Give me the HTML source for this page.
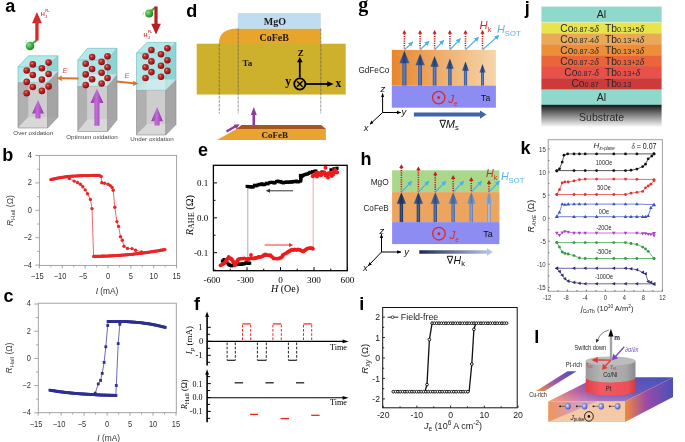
<!DOCTYPE html>
<html><head><meta charset="utf-8"><style>
html,body{margin:0;padding:0;background:#fff;}
svg{display:block;will-change:transform;}
</style></head><body>
<svg width="685" height="442" viewBox="0 0 685 442">
<defs>
<radialGradient id="ball" cx="0.38" cy="0.35" r="0.7"><stop offset="0" stop-color="#f0a0a0"/><stop offset="0.25" stop-color="#c83030"/><stop offset="0.7" stop-color="#a01818"/><stop offset="1" stop-color="#6a0c0c"/></radialGradient>
<radialGradient id="gball" cx="0.35" cy="0.35" r="0.7"><stop offset="0" stop-color="#8be08b"/><stop offset="0.6" stop-color="#3aaa3a"/><stop offset="1" stop-color="#1f7a1f"/></radialGradient>
<linearGradient id="purp" x1="0" x2="1"><stop offset="0" stop-color="#8e30a6"/><stop offset="0.45" stop-color="#c46cd8"/><stop offset="1" stop-color="#8a2ea2"/></linearGradient>
<radialGradient id="eball" cx="0.4" cy="0.4" r="0.7"><stop offset="0" stop-color="#e0e4ff"/><stop offset="0.55" stop-color="#7a82e0"/><stop offset="1" stop-color="#3a40a8"/></radialGradient>

<linearGradient id="gfc" x1="0" x2="1"><stop offset="0" stop-color="#e8862c"/><stop offset="0.5" stop-color="#efb070"/><stop offset="1" stop-color="#f5d6ac"/></linearGradient>
<linearGradient id="bstem" x1="0" x2="1"><stop offset="0" stop-color="#2d4f8e"/><stop offset="0.45" stop-color="#5a86d0"/><stop offset="1" stop-color="#2d4f8e"/></linearGradient>
<linearGradient id="bhead" x1="0" x2="1"><stop offset="0" stop-color="#4a6aa8"/><stop offset="0.5" stop-color="#243e72"/><stop offset="1" stop-color="#4a6aa8"/></linearGradient>
<linearGradient id="nh" x1="0" x2="1"><stop offset="0" stop-color="#1a2a50"/><stop offset="1" stop-color="#c0cfe8"/></linearGradient>
<linearGradient id="sub" x1="0" y1="0" x2="0" y2="1"><stop offset="0" stop-color="#161616"/><stop offset="0.5" stop-color="#8a8a8a"/><stop offset="1" stop-color="#fafafa"/></linearGradient>
<linearGradient id="slabtop" gradientUnits="userSpaceOnUse" x1="548" y1="401" x2="650" y2="360"><stop offset="0" stop-color="#ee8a3e"/><stop offset="0.25" stop-color="#b8609e"/><stop offset="0.45" stop-color="#7c4aac"/><stop offset="0.8" stop-color="#5a4eb8"/><stop offset="1" stop-color="#4a52b8"/></linearGradient>
<linearGradient id="slabside" x1="0" y1="0" x2="1" y2="0"><stop offset="0" stop-color="#f08a3a"/><stop offset="0.45" stop-color="#9a4aa8"/><stop offset="1" stop-color="#4a50b8"/></linearGradient>
<linearGradient id="slabfront" x1="0" y1="0" x2="1" y2="0"><stop offset="0" stop-color="#f0a060"/><stop offset="0.08" stop-color="#f6ccaa"/><stop offset="1" stop-color="#f4caa6"/></linearGradient>
<linearGradient id="slabtri" x1="0" y1="0" x2="1" y2="0"><stop offset="0" stop-color="#f09050" stop-opacity="0.9"/><stop offset="0.5" stop-color="#d08ab0" stop-opacity="0.7"/><stop offset="1" stop-color="#b090c8" stop-opacity="0.45"/></linearGradient>
<linearGradient id="slabhl" x1="0" y1="1" x2="0" y2="0"><stop offset="0" stop-color="#ffd8e0" stop-opacity="0.35"/><stop offset="0.4" stop-color="#ffd0e0" stop-opacity="0.08"/><stop offset="1" stop-color="#ffffff" stop-opacity="0"/></linearGradient>
<linearGradient id="bar" x1="0" y1="1" x2="1" y2="0"><stop offset="0" stop-color="#f09040"/><stop offset="0.5" stop-color="#9a50b0"/><stop offset="1" stop-color="#4a50c0"/></linearGradient>
<linearGradient id="cylg" x1="0" x2="1"><stop offset="0" stop-color="#9a9a9a"/><stop offset="0.3" stop-color="#b4b4b4"/><stop offset="0.8" stop-color="#a8a8a8"/><stop offset="1" stop-color="#8a8a8a"/></linearGradient>
<linearGradient id="cylr" x1="0" x2="1"><stop offset="0" stop-color="#e04048"/><stop offset="0.3" stop-color="#f05a60"/><stop offset="0.85" stop-color="#ec5058"/><stop offset="1" stop-color="#d03a42"/></linearGradient>
<marker id="mblk" viewBox="0 0 10 10" refX="9" refY="5" markerWidth="4.2" markerHeight="4.2" orient="auto"><path d="M0,1 L10,5 L0,9 z" fill="#000"/></marker>
<marker id="mred" viewBox="0 0 10 10" refX="9" refY="5" markerWidth="4" markerHeight="4" orient="auto"><path d="M0,0 L10,5 L0,10 z" fill="#e02020"/></marker>
<marker id="msot" viewBox="0 0 10 10" refX="9" refY="5" markerWidth="4" markerHeight="4" orient="auto"><path d="M0,0 L10,5 L0,10 z" fill="#4ab0e8"/></marker>
</defs>
<rect width="685" height="442" fill="#fff"/>
<text x="5.3" y="12.2" font-size="18" text-anchor="start" fill="#000" font-family="Liberation Sans, sans-serif" font-weight="bold" font-style="normal" >a</text>
<polygon points="28.5,71.2 58.0,71.2 58.0,117.0 28.5,117.0" fill="#d6d6d6" stroke="none" stroke-width="1" />
<polygon points="18.0,82.2 28.5,71.2 28.5,117.0 18.0,128.0" fill="#a9a9a9" stroke="none" stroke-width="1" />
<polygon points="18.0,128.0 47.5,128.0 58.0,117.0 28.5,117.0" fill="#e6e6e6" stroke="none" stroke-width="1" />
<polygon points="47.5,82.2 58.0,71.2 58.0,117.0 47.5,128.0" fill="#9c9c9c" stroke="none" stroke-width="1" fill-opacity="0.85"/>
<polygon points="18.0,82.2 47.5,82.2 47.5,128.0 18.0,128.0" fill="#bdbdbd" stroke="none" stroke-width="1" fill-opacity="0.35"/>
<polyline points="18.0,82.2 18.0,128.0 47.5,128.0 47.5,82.2" fill="none" stroke="#8a8a8a" stroke-width="0.6" />
<line x1="58.00" y1="71.20" x2="58.00" y2="117.00" stroke="#8a8a8a" stroke-width="0.6" />
<line x1="47.50" y1="128.00" x2="58.00" y2="117.00" stroke="#8a8a8a" stroke-width="0.6" />
<polygon points="87.3,74.3 117.0,74.3 117.0,119.8 87.3,119.8" fill="#d6d6d6" stroke="none" stroke-width="1" />
<polygon points="77.8,86.0 87.3,74.3 87.3,119.8 77.8,131.5" fill="#a9a9a9" stroke="none" stroke-width="1" />
<polygon points="77.8,131.5 107.5,131.5 117.0,119.8 87.3,119.8" fill="#e6e6e6" stroke="none" stroke-width="1" />
<polygon points="107.5,86.0 117.0,74.3 117.0,119.8 107.5,131.5" fill="#9c9c9c" stroke="none" stroke-width="1" fill-opacity="0.85"/>
<polygon points="77.8,86.0 107.5,86.0 107.5,131.5 77.8,131.5" fill="#bdbdbd" stroke="none" stroke-width="1" fill-opacity="0.35"/>
<polyline points="77.8,86.0 77.8,131.5 107.5,131.5 107.5,86.0" fill="none" stroke="#8a8a8a" stroke-width="0.6" />
<line x1="117.00" y1="74.30" x2="117.00" y2="119.80" stroke="#8a8a8a" stroke-width="0.6" />
<line x1="107.50" y1="131.50" x2="117.00" y2="119.80" stroke="#8a8a8a" stroke-width="0.6" />
<polygon points="146.8,79.4 176.0,79.4 176.0,124.4 146.8,124.4" fill="#d6d6d6" stroke="none" stroke-width="1" />
<polygon points="136.5,90.0 146.8,79.4 146.8,124.4 136.5,135.0" fill="#a9a9a9" stroke="none" stroke-width="1" />
<polygon points="136.5,135.0 165.7,135.0 176.0,124.4 146.8,124.4" fill="#e6e6e6" stroke="none" stroke-width="1" />
<polygon points="165.7,90.0 176.0,79.4 176.0,124.4 165.7,135.0" fill="#9c9c9c" stroke="none" stroke-width="1" fill-opacity="0.85"/>
<polygon points="136.5,90.0 165.7,90.0 165.7,135.0 136.5,135.0" fill="#bdbdbd" stroke="none" stroke-width="1" fill-opacity="0.35"/>
<polyline points="136.5,90.0 136.5,135.0 165.7,135.0 165.7,90.0" fill="none" stroke="#8a8a8a" stroke-width="0.6" />
<line x1="176.00" y1="79.40" x2="176.00" y2="124.40" stroke="#8a8a8a" stroke-width="0.6" />
<line x1="165.70" y1="135.00" x2="176.00" y2="124.40" stroke="#8a8a8a" stroke-width="0.6" />
<polygon points="28.5,55.8 58.0,55.8 58.0,71.2 28.5,71.2" fill="#bfeeee" stroke="none" stroke-width="1" />
<polygon points="47.5,66.8 58.0,55.8 58.0,71.2 47.5,82.2" fill="#8fd4d4" stroke="none" stroke-width="1" />
<polygon points="18.0,66.8 47.5,66.8 58.0,55.8 28.5,55.8" fill="#b4e8e8" stroke="none" stroke-width="1" />
<polygon points="18.0,66.8 47.5,66.8 47.5,82.2 18.0,82.2" fill="#a6e2e2" stroke="none" stroke-width="1" fill-opacity="0.85"/>
<polyline points="18.0,66.8 47.5,66.8 58.0,55.8 28.5,55.8 18.0,66.8 18.0,82.2 47.5,82.2 47.5,66.8" fill="none" stroke="#6cb8b8" stroke-width="0.6" />
<line x1="58.00" y1="55.80" x2="58.00" y2="71.20" stroke="#6cb8b8" stroke-width="0.6" />
<line x1="47.50" y1="82.20" x2="58.00" y2="71.20" stroke="#6cb8b8" stroke-width="0.6" />
<polygon points="18.0,82.2 47.5,82.2 58.0,71.2 28.5,71.2" fill="#f4f8f8" stroke="none" stroke-width="1" fill-opacity="0.45"/>
<polygon points="87.3,48.3 117.0,48.3 117.0,74.3 87.3,74.3" fill="#bfeeee" stroke="none" stroke-width="1" />
<polygon points="107.5,60.0 117.0,48.3 117.0,74.3 107.5,86.0" fill="#8fd4d4" stroke="none" stroke-width="1" />
<polygon points="77.8,60.0 107.5,60.0 117.0,48.3 87.3,48.3" fill="#b4e8e8" stroke="none" stroke-width="1" />
<polygon points="77.8,60.0 107.5,60.0 107.5,86.0 77.8,86.0" fill="#a6e2e2" stroke="none" stroke-width="1" fill-opacity="0.85"/>
<polyline points="77.8,60.0 107.5,60.0 117.0,48.3 87.3,48.3 77.8,60.0 77.8,86.0 107.5,86.0 107.5,60.0" fill="none" stroke="#6cb8b8" stroke-width="0.6" />
<line x1="117.00" y1="48.30" x2="117.00" y2="74.30" stroke="#6cb8b8" stroke-width="0.6" />
<line x1="107.50" y1="86.00" x2="117.00" y2="74.30" stroke="#6cb8b8" stroke-width="0.6" />
<polygon points="77.8,86.0 107.5,86.0 117.0,74.3 87.3,74.3" fill="#f4f8f8" stroke="none" stroke-width="1" fill-opacity="0.45"/>
<polygon points="146.8,42.4 176.0,42.4 176.0,79.4 146.8,79.4" fill="#bfeeee" stroke="none" stroke-width="1" />
<polygon points="165.7,53.0 176.0,42.4 176.0,79.4 165.7,90.0" fill="#8fd4d4" stroke="none" stroke-width="1" />
<polygon points="136.5,53.0 165.7,53.0 176.0,42.4 146.8,42.4" fill="#b4e8e8" stroke="none" stroke-width="1" />
<polygon points="136.5,53.0 165.7,53.0 165.7,90.0 136.5,90.0" fill="#a6e2e2" stroke="none" stroke-width="1" fill-opacity="0.85"/>
<polyline points="136.5,53.0 165.7,53.0 176.0,42.4 146.8,42.4 136.5,53.0 136.5,90.0 165.7,90.0 165.7,53.0" fill="none" stroke="#6cb8b8" stroke-width="0.6" />
<line x1="176.00" y1="42.40" x2="176.00" y2="79.40" stroke="#6cb8b8" stroke-width="0.6" />
<line x1="165.70" y1="90.00" x2="176.00" y2="79.40" stroke="#6cb8b8" stroke-width="0.6" />
<polygon points="136.5,90.0 165.7,90.0 176.0,79.4 146.8,79.4" fill="#f4f8f8" stroke="none" stroke-width="1" fill-opacity="0.45"/>
<circle cx="32.8" cy="64.4" r="3.3" fill="url(#ball)" />
<circle cx="48.6" cy="62.6" r="3.3" fill="url(#ball)" />
<circle cx="26.7" cy="70.5" r="3.3" fill="url(#ball)" />
<circle cx="41.9" cy="68.3" r="3.3" fill="url(#ball)" />
<circle cx="48.6" cy="74.0" r="3.3" fill="url(#ball)" />
<circle cx="32.8" cy="75.0" r="3.3" fill="url(#ball)" />
<circle cx="26.7" cy="81.9" r="3.3" fill="url(#ball)" />
<circle cx="41.9" cy="79.6" r="3.3" fill="url(#ball)" />
<circle cx="32.8" cy="87.0" r="3.3" fill="url(#ball)" />
<circle cx="48.6" cy="86.4" r="3.3" fill="url(#ball)" />
<circle cx="26.7" cy="93.2" r="3.3" fill="url(#ball)" />
<circle cx="41.9" cy="90.9" r="3.3" fill="url(#ball)" />
<circle cx="92.1" cy="57.1" r="3.3" fill="url(#ball)" />
<circle cx="107.5" cy="56.2" r="3.3" fill="url(#ball)" />
<circle cx="85.7" cy="63.8" r="3.3" fill="url(#ball)" />
<circle cx="101.6" cy="61.9" r="3.3" fill="url(#ball)" />
<circle cx="107.5" cy="67.3" r="3.3" fill="url(#ball)" />
<circle cx="92.1" cy="69.0" r="3.3" fill="url(#ball)" />
<circle cx="85.7" cy="74.4" r="3.3" fill="url(#ball)" />
<circle cx="101.6" cy="72.8" r="3.3" fill="url(#ball)" />
<circle cx="107.5" cy="78.0" r="3.3" fill="url(#ball)" />
<circle cx="92.1" cy="79.2" r="3.3" fill="url(#ball)" />
<circle cx="85.7" cy="85.1" r="3.3" fill="url(#ball)" />
<circle cx="101.6" cy="83.5" r="3.3" fill="url(#ball)" />
<circle cx="151.4" cy="50.0" r="3.3" fill="url(#ball)" />
<circle cx="167.4" cy="48.3" r="3.3" fill="url(#ball)" />
<circle cx="145.5" cy="56.2" r="3.3" fill="url(#ball)" />
<circle cx="161.0" cy="54.3" r="3.3" fill="url(#ball)" />
<circle cx="167.4" cy="60.2" r="3.3" fill="url(#ball)" />
<circle cx="151.4" cy="61.4" r="3.3" fill="url(#ball)" />
<circle cx="145.5" cy="67.3" r="3.3" fill="url(#ball)" />
<circle cx="161.0" cy="65.7" r="3.3" fill="url(#ball)" />
<circle cx="167.4" cy="70.9" r="3.3" fill="url(#ball)" />
<circle cx="151.4" cy="72.1" r="3.3" fill="url(#ball)" />
<circle cx="145.5" cy="78.0" r="3.3" fill="url(#ball)" />
<circle cx="161.0" cy="76.8" r="3.3" fill="url(#ball)" />
<polygon points="38.0,99.9 43.9,113.4 40.5,113.4 40.5,118.6 35.5,118.6 35.5,113.4 32.1,113.4" fill="url(#purp)" stroke="none" stroke-width="1" />
<polygon points="96.9,88.8 103.4,103.1 99.5,103.1 99.5,125.8 94.4,125.8 94.4,103.1 90.5,103.1" fill="url(#purp)" stroke="none" stroke-width="1" />
<polygon points="157.1,107.0 162.9,121.3 159.6,121.3 159.6,125.6 154.6,125.6 154.6,121.3 151.2,121.3" fill="url(#purp)" stroke="none" stroke-width="1" />
<polygon points="56.6,78.2 62.5,75.2 61.5,77.2 78.6,77.4 78.6,79.4 61.5,79.2 62.5,81.2" fill="#d8742e" stroke="none" stroke-width="1" />
<polygon points="138.4,83.4 132.6,80.4 133.5,82.3 116.5,80.6 116.5,82.6 133.5,84.3 132.6,86.3" fill="#d8742e" stroke="none" stroke-width="1" />
<text x="62.5" y="72.5" font-size="7" text-anchor="start" fill="#e04848" font-family="Liberation Sans, sans-serif" font-weight="normal" font-style="italic" >E</text>
<text x="124.5" y="77.5" font-size="7" text-anchor="start" fill="#e04848" font-family="Liberation Sans, sans-serif" font-weight="normal" font-style="italic" >E</text>
<circle cx="30.0" cy="46.0" r="4.3" fill="url(#gball)" />
<line x1="32.00" y1="44.00" x2="37.00" y2="40.00" stroke="#3aaa3a" stroke-width="2.2" />
<polygon points="36.9,12.1 41.9,23.2 38.6,23.2 38.6,40.5 35.3,40.5 35.3,23.2 32.0,23.2" fill="#d42a2a" stroke="none" stroke-width="1" />
<circle cx="149.2" cy="13.6" r="4" fill="url(#gball)" />
<line x1="151.00" y1="11.00" x2="156.00" y2="7.00" stroke="#3aaa3a" stroke-width="2.2" />
<polygon points="156.0,34.6 160.9,23.7 157.6,23.7 157.6,6.5 154.4,6.5 154.4,23.7 151.2,23.7" fill="#b81e1e" stroke="none" stroke-width="1" />
<text x="40.8" y="15.7" font-size="5.6" text-anchor="start" fill="#d04040" font-family="Liberation Sans, sans-serif" font-weight="bold" font-style="normal" >H</text>
<text x="45.3" y="12.0" font-size="3.4" text-anchor="start" fill="#d04040" font-family="Liberation Sans, sans-serif" font-weight="bold" font-style="normal" >FL</text>
<text x="45.3" y="17.8" font-size="3.4" text-anchor="start" fill="#d04040" font-family="Liberation Sans, sans-serif" font-weight="bold" font-style="normal" >J</text>
<text x="143.5" y="36.8" font-size="5.6" text-anchor="start" fill="#d04040" font-family="Liberation Sans, sans-serif" font-weight="bold" font-style="normal" >H</text>
<text x="148.0" y="33.1" font-size="3.4" text-anchor="start" fill="#d04040" font-family="Liberation Sans, sans-serif" font-weight="bold" font-style="normal" >FL</text>
<text x="148.0" y="38.9" font-size="3.4" text-anchor="start" fill="#d04040" font-family="Liberation Sans, sans-serif" font-weight="bold" font-style="normal" >J</text>
<text x="24.5" y="43.0" font-size="4" text-anchor="start" fill="#80c080" font-family="Liberation Sans, sans-serif" font-weight="normal" font-style="italic" >J</text>
<text x="142.0" y="15.0" font-size="4" text-anchor="start" fill="#80c080" font-family="Liberation Sans, sans-serif" font-weight="normal" font-style="italic" >J</text>
<text x="33.3" y="135.0" font-size="6.2" text-anchor="middle" fill="#444" font-family="Liberation Sans, sans-serif" font-weight="normal" font-style="normal" >Over oxidation</text>
<text x="92.0" y="139.0" font-size="6.2" text-anchor="middle" fill="#444" font-family="Liberation Sans, sans-serif" font-weight="normal" font-style="normal" >Optimum oxidation</text>
<text x="152.0" y="140.5" font-size="6.2" text-anchor="middle" fill="#444" font-family="Liberation Sans, sans-serif" font-weight="normal" font-style="normal" >Under oxidation</text>
<text x="2.2" y="161.2" font-size="18" text-anchor="start" fill="#000" font-family="Liberation Sans, sans-serif" font-weight="bold" font-style="normal" >b</text>
<rect x="39.4" y="155.4" width="137.2" height="110.0" fill="none" stroke="#9a9a9a" stroke-width="0.9"/>
<line x1="39.41" y1="265.40" x2="39.41" y2="268.40" stroke="#9a9a9a" stroke-width="0.9" />
<text transform="translate(37.20,279.40) scale(0.85,1)" font-size="8.8" text-anchor="middle" fill="#333" font-family="Liberation Sans, sans-serif" font-style="normal" font-weight="normal">−15</text>
<line x1="62.27" y1="265.40" x2="62.27" y2="268.40" stroke="#9a9a9a" stroke-width="0.9" />
<text transform="translate(60.07,279.40) scale(0.85,1)" font-size="8.8" text-anchor="middle" fill="#333" font-family="Liberation Sans, sans-serif" font-style="normal" font-weight="normal">−10</text>
<line x1="85.13" y1="265.40" x2="85.13" y2="268.40" stroke="#9a9a9a" stroke-width="0.9" />
<text transform="translate(82.93,279.40) scale(0.85,1)" font-size="8.8" text-anchor="middle" fill="#333" font-family="Liberation Sans, sans-serif" font-style="normal" font-weight="normal">−5</text>
<line x1="108.00" y1="265.40" x2="108.00" y2="268.40" stroke="#9a9a9a" stroke-width="0.9" />
<text transform="translate(108.00,279.40) scale(0.85,1)" font-size="8.8" text-anchor="middle" fill="#333" font-family="Liberation Sans, sans-serif" font-style="normal" font-weight="normal">0</text>
<line x1="130.87" y1="265.40" x2="130.87" y2="268.40" stroke="#9a9a9a" stroke-width="0.9" />
<text transform="translate(130.87,279.40) scale(0.85,1)" font-size="8.8" text-anchor="middle" fill="#333" font-family="Liberation Sans, sans-serif" font-style="normal" font-weight="normal">5</text>
<line x1="153.73" y1="265.40" x2="153.73" y2="268.40" stroke="#9a9a9a" stroke-width="0.9" />
<text transform="translate(153.73,279.40) scale(0.85,1)" font-size="8.8" text-anchor="middle" fill="#333" font-family="Liberation Sans, sans-serif" font-style="normal" font-weight="normal">10</text>
<line x1="176.59" y1="265.40" x2="176.59" y2="268.40" stroke="#9a9a9a" stroke-width="0.9" />
<text transform="translate(176.59,279.40) scale(0.85,1)" font-size="8.8" text-anchor="middle" fill="#333" font-family="Liberation Sans, sans-serif" font-style="normal" font-weight="normal">15</text>
<line x1="50.84" y1="265.40" x2="50.84" y2="267.40" stroke="#9a9a9a" stroke-width="0.8" />
<line x1="73.70" y1="265.40" x2="73.70" y2="267.40" stroke="#9a9a9a" stroke-width="0.8" />
<line x1="96.57" y1="265.40" x2="96.57" y2="267.40" stroke="#9a9a9a" stroke-width="0.8" />
<line x1="119.43" y1="265.40" x2="119.43" y2="267.40" stroke="#9a9a9a" stroke-width="0.8" />
<line x1="142.30" y1="265.40" x2="142.30" y2="267.40" stroke="#9a9a9a" stroke-width="0.8" />
<line x1="165.16" y1="265.40" x2="165.16" y2="267.40" stroke="#9a9a9a" stroke-width="0.8" />
<line x1="35.40" y1="265.10" x2="39.40" y2="265.10" stroke="#9a9a9a" stroke-width="0.9" />
<text transform="translate(32.00,267.50) scale(0.85,1)" font-size="8.8" text-anchor="end" fill="#333" font-family="Liberation Sans, sans-serif" font-style="normal" font-weight="normal">−4</text>
<line x1="35.40" y1="237.70" x2="39.40" y2="237.70" stroke="#9a9a9a" stroke-width="0.9" />
<text transform="translate(32.00,240.10) scale(0.85,1)" font-size="8.8" text-anchor="end" fill="#333" font-family="Liberation Sans, sans-serif" font-style="normal" font-weight="normal">−2</text>
<line x1="35.40" y1="210.30" x2="39.40" y2="210.30" stroke="#9a9a9a" stroke-width="0.9" />
<text transform="translate(32.00,212.70) scale(0.85,1)" font-size="8.8" text-anchor="end" fill="#333" font-family="Liberation Sans, sans-serif" font-style="normal" font-weight="normal">0</text>
<line x1="35.40" y1="182.90" x2="39.40" y2="182.90" stroke="#9a9a9a" stroke-width="0.9" />
<text transform="translate(32.00,185.30) scale(0.85,1)" font-size="8.8" text-anchor="end" fill="#333" font-family="Liberation Sans, sans-serif" font-style="normal" font-weight="normal">2</text>
<line x1="35.40" y1="155.50" x2="39.40" y2="155.50" stroke="#9a9a9a" stroke-width="0.9" />
<text transform="translate(32.00,157.90) scale(0.85,1)" font-size="8.8" text-anchor="end" fill="#333" font-family="Liberation Sans, sans-serif" font-style="normal" font-weight="normal">4</text>
<line x1="36.90" y1="251.40" x2="39.40" y2="251.40" stroke="#9a9a9a" stroke-width="0.8" />
<line x1="36.90" y1="224.00" x2="39.40" y2="224.00" stroke="#9a9a9a" stroke-width="0.8" />
<line x1="36.90" y1="196.60" x2="39.40" y2="196.60" stroke="#9a9a9a" stroke-width="0.8" />
<line x1="36.90" y1="169.20" x2="39.40" y2="169.20" stroke="#9a9a9a" stroke-width="0.8" />
<text transform="translate(13.3,210.6) rotate(-90)" font-size="8.5" text-anchor="middle" fill="#3a3a3a" font-family="Liberation Sans, sans-serif"><tspan font-style="italic">R</tspan><tspan font-size="6" dy="1.8">Hall</tspan><tspan dy="-1.8"> (Ω)</tspan></text>
<polyline points="101.0,176.4 101.8,182.7 104.5,183.3 108.1,184.3 110.3,185.6 112.1,187.5 113.2,190.2 114.8,207.3 116.9,221.6 118.6,226.4 120.5,236.7 122.3,240.2 124.0,246.3 127.5,248.4 132.0,248.6 135.6,250.2 141.5,251.9" fill="none" stroke="#e8262a" stroke-width="0.7" />
<polyline points="69.3,178.5 74.1,181.1 77.5,182.5 80.4,184.3 82.8,186.7 85.2,189.9 87.5,193.8 90.4,199.4 92.0,208.6 93.6,256.3" fill="none" stroke="#e8262a" stroke-width="0.7" />
<circle cx="50.8" cy="179.6" r="1.6" fill="#e8262a" />
<circle cx="51.8" cy="179.4" r="1.6" fill="#e8262a" />
<circle cx="52.9" cy="179.1" r="1.6" fill="#e8262a" />
<circle cx="53.9" cy="178.9" r="1.6" fill="#e8262a" />
<circle cx="54.9" cy="178.7" r="1.6" fill="#e8262a" />
<circle cx="55.9" cy="178.5" r="1.6" fill="#e8262a" />
<circle cx="57.0" cy="178.2" r="1.6" fill="#e8262a" />
<circle cx="58.0" cy="178.0" r="1.6" fill="#e8262a" />
<circle cx="59.0" cy="177.8" r="1.6" fill="#e8262a" />
<circle cx="60.1" cy="177.7" r="1.6" fill="#e8262a" />
<circle cx="61.1" cy="177.5" r="1.6" fill="#e8262a" />
<circle cx="62.2" cy="177.4" r="1.6" fill="#e8262a" />
<circle cx="63.2" cy="177.2" r="1.6" fill="#e8262a" />
<circle cx="64.3" cy="177.0" r="1.6" fill="#e8262a" />
<circle cx="65.3" cy="176.9" r="1.6" fill="#e8262a" />
<circle cx="66.4" cy="176.7" r="1.6" fill="#e8262a" />
<circle cx="67.5" cy="176.6" r="1.6" fill="#e8262a" />
<circle cx="68.5" cy="176.4" r="1.6" fill="#e8262a" />
<circle cx="69.5" cy="176.3" r="1.6" fill="#e8262a" />
<circle cx="70.6" cy="176.3" r="1.6" fill="#e8262a" />
<circle cx="71.6" cy="176.2" r="1.6" fill="#e8262a" />
<circle cx="72.7" cy="176.1" r="1.6" fill="#e8262a" />
<circle cx="73.7" cy="176.1" r="1.6" fill="#e8262a" />
<circle cx="74.8" cy="176.0" r="1.6" fill="#e8262a" />
<circle cx="75.8" cy="176.0" r="1.6" fill="#e8262a" />
<circle cx="76.9" cy="175.9" r="1.6" fill="#e8262a" />
<circle cx="77.9" cy="175.8" r="1.6" fill="#e8262a" />
<circle cx="79.0" cy="175.8" r="1.6" fill="#e8262a" />
<circle cx="80.0" cy="175.7" r="1.6" fill="#e8262a" />
<circle cx="81.0" cy="175.7" r="1.6" fill="#e8262a" />
<circle cx="82.0" cy="175.7" r="1.6" fill="#e8262a" />
<circle cx="83.1" cy="175.6" r="1.6" fill="#e8262a" />
<circle cx="84.1" cy="175.6" r="1.6" fill="#e8262a" />
<circle cx="85.1" cy="175.6" r="1.6" fill="#e8262a" />
<circle cx="86.1" cy="175.6" r="1.6" fill="#e8262a" />
<circle cx="87.1" cy="175.6" r="1.6" fill="#e8262a" />
<circle cx="88.2" cy="175.5" r="1.6" fill="#e8262a" />
<circle cx="89.2" cy="175.5" r="1.6" fill="#e8262a" />
<circle cx="90.2" cy="175.5" r="1.6" fill="#e8262a" />
<circle cx="91.2" cy="175.5" r="1.6" fill="#e8262a" />
<circle cx="92.3" cy="175.4" r="1.6" fill="#e8262a" />
<circle cx="93.3" cy="175.4" r="1.6" fill="#e8262a" />
<circle cx="94.3" cy="175.4" r="1.6" fill="#e8262a" />
<circle cx="95.3" cy="175.4" r="1.6" fill="#e8262a" />
<circle cx="96.3" cy="175.4" r="1.6" fill="#e8262a" />
<circle cx="97.4" cy="175.3" r="1.6" fill="#e8262a" />
<circle cx="98.4" cy="175.3" r="1.6" fill="#e8262a" />
<circle cx="99.4" cy="175.3" r="1.6" fill="#e8262a" />
<circle cx="101.0" cy="176.4" r="1.6" fill="#e8262a" />
<circle cx="93.6" cy="256.4" r="1.6" fill="#e8262a" />
<circle cx="94.7" cy="256.4" r="1.6" fill="#e8262a" />
<circle cx="95.7" cy="256.4" r="1.6" fill="#e8262a" />
<circle cx="96.8" cy="256.4" r="1.6" fill="#e8262a" />
<circle cx="97.9" cy="256.3" r="1.6" fill="#e8262a" />
<circle cx="98.9" cy="256.3" r="1.6" fill="#e8262a" />
<circle cx="100.0" cy="256.3" r="1.6" fill="#e8262a" />
<circle cx="101.0" cy="256.3" r="1.6" fill="#e8262a" />
<circle cx="102.0" cy="256.2" r="1.6" fill="#e8262a" />
<circle cx="103.0" cy="256.2" r="1.6" fill="#e8262a" />
<circle cx="104.0" cy="256.1" r="1.6" fill="#e8262a" />
<circle cx="105.0" cy="256.1" r="1.6" fill="#e8262a" />
<circle cx="106.0" cy="256.1" r="1.6" fill="#e8262a" />
<circle cx="107.0" cy="256.0" r="1.6" fill="#e8262a" />
<circle cx="108.0" cy="256.0" r="1.6" fill="#e8262a" />
<circle cx="109.0" cy="255.9" r="1.6" fill="#e8262a" />
<circle cx="110.0" cy="255.9" r="1.6" fill="#e8262a" />
<circle cx="111.0" cy="255.8" r="1.6" fill="#e8262a" />
<circle cx="112.0" cy="255.8" r="1.6" fill="#e8262a" />
<circle cx="113.0" cy="255.7" r="1.6" fill="#e8262a" />
<circle cx="114.0" cy="255.7" r="1.6" fill="#e8262a" />
<circle cx="115.0" cy="255.6" r="1.6" fill="#e8262a" />
<circle cx="116.0" cy="255.5" r="1.6" fill="#e8262a" />
<circle cx="117.0" cy="255.5" r="1.6" fill="#e8262a" />
<circle cx="118.0" cy="255.4" r="1.6" fill="#e8262a" />
<circle cx="119.0" cy="255.4" r="1.6" fill="#e8262a" />
<circle cx="120.0" cy="255.3" r="1.6" fill="#e8262a" />
<circle cx="121.0" cy="255.2" r="1.6" fill="#e8262a" />
<circle cx="122.0" cy="255.1" r="1.6" fill="#e8262a" />
<circle cx="123.0" cy="255.1" r="1.6" fill="#e8262a" />
<circle cx="124.0" cy="255.0" r="1.6" fill="#e8262a" />
<circle cx="125.0" cy="254.9" r="1.6" fill="#e8262a" />
<circle cx="126.0" cy="254.8" r="1.6" fill="#e8262a" />
<circle cx="127.0" cy="254.7" r="1.6" fill="#e8262a" />
<circle cx="128.0" cy="254.7" r="1.6" fill="#e8262a" />
<circle cx="129.0" cy="254.6" r="1.6" fill="#e8262a" />
<circle cx="130.0" cy="254.5" r="1.6" fill="#e8262a" />
<circle cx="131.0" cy="254.4" r="1.6" fill="#e8262a" />
<circle cx="132.0" cy="254.3" r="1.6" fill="#e8262a" />
<circle cx="133.0" cy="254.2" r="1.6" fill="#e8262a" />
<circle cx="134.0" cy="254.1" r="1.6" fill="#e8262a" />
<circle cx="135.0" cy="253.9" r="1.6" fill="#e8262a" />
<circle cx="136.0" cy="253.8" r="1.6" fill="#e8262a" />
<circle cx="137.0" cy="253.7" r="1.6" fill="#e8262a" />
<circle cx="138.0" cy="253.6" r="1.6" fill="#e8262a" />
<circle cx="139.0" cy="253.5" r="1.6" fill="#e8262a" />
<circle cx="140.0" cy="253.4" r="1.6" fill="#e8262a" />
<circle cx="141.0" cy="253.3" r="1.6" fill="#e8262a" />
<circle cx="142.0" cy="253.1" r="1.6" fill="#e8262a" />
<circle cx="143.0" cy="253.0" r="1.6" fill="#e8262a" />
<circle cx="144.0" cy="252.8" r="1.6" fill="#e8262a" />
<circle cx="145.0" cy="252.7" r="1.6" fill="#e8262a" />
<circle cx="146.0" cy="252.6" r="1.6" fill="#e8262a" />
<circle cx="147.0" cy="252.4" r="1.6" fill="#e8262a" />
<circle cx="148.0" cy="252.3" r="1.6" fill="#e8262a" />
<circle cx="149.0" cy="252.1" r="1.6" fill="#e8262a" />
<circle cx="150.0" cy="252.0" r="1.6" fill="#e8262a" />
<circle cx="151.0" cy="251.8" r="1.6" fill="#e8262a" />
<circle cx="152.0" cy="251.7" r="1.6" fill="#e8262a" />
<circle cx="153.0" cy="251.6" r="1.6" fill="#e8262a" />
<circle cx="154.0" cy="251.4" r="1.6" fill="#e8262a" />
<circle cx="155.0" cy="251.2" r="1.6" fill="#e8262a" />
<circle cx="156.0" cy="251.1" r="1.6" fill="#e8262a" />
<circle cx="157.0" cy="251.0" r="1.6" fill="#e8262a" />
<circle cx="158.0" cy="250.8" r="1.6" fill="#e8262a" />
<circle cx="159.0" cy="250.6" r="1.6" fill="#e8262a" />
<circle cx="160.0" cy="250.4" r="1.6" fill="#e8262a" />
<circle cx="161.0" cy="250.2" r="1.6" fill="#e8262a" />
<circle cx="162.0" cy="250.1" r="1.6" fill="#e8262a" />
<circle cx="163.0" cy="249.9" r="1.6" fill="#e8262a" />
<circle cx="164.0" cy="249.7" r="1.6" fill="#e8262a" />
<circle cx="165.0" cy="249.5" r="1.6" fill="#e8262a" />
<circle cx="101.0" cy="176.4" r="1.7" fill="#e8262a" />
<circle cx="101.8" cy="182.7" r="1.7" fill="#e8262a" />
<circle cx="104.5" cy="183.3" r="1.7" fill="#e8262a" />
<circle cx="108.1" cy="184.3" r="1.7" fill="#e8262a" />
<circle cx="110.3" cy="185.6" r="1.7" fill="#e8262a" />
<circle cx="112.1" cy="187.5" r="1.7" fill="#e8262a" />
<circle cx="113.2" cy="190.2" r="1.7" fill="#e8262a" />
<circle cx="114.8" cy="207.3" r="1.7" fill="#e8262a" />
<circle cx="116.9" cy="221.6" r="1.7" fill="#e8262a" />
<circle cx="118.6" cy="226.4" r="1.7" fill="#e8262a" />
<circle cx="120.5" cy="236.7" r="1.7" fill="#e8262a" />
<circle cx="122.3" cy="240.2" r="1.7" fill="#e8262a" />
<circle cx="124.0" cy="246.3" r="1.7" fill="#e8262a" />
<circle cx="127.5" cy="248.4" r="1.7" fill="#e8262a" />
<circle cx="132.0" cy="248.6" r="1.7" fill="#e8262a" />
<circle cx="135.6" cy="250.2" r="1.7" fill="#e8262a" />
<circle cx="141.5" cy="251.9" r="1.7" fill="#e8262a" />
<circle cx="69.3" cy="178.5" r="1.7" fill="#e8262a" />
<circle cx="74.1" cy="181.1" r="1.7" fill="#e8262a" />
<circle cx="77.5" cy="182.5" r="1.7" fill="#e8262a" />
<circle cx="80.4" cy="184.3" r="1.7" fill="#e8262a" />
<circle cx="82.8" cy="186.7" r="1.7" fill="#e8262a" />
<circle cx="85.2" cy="189.9" r="1.7" fill="#e8262a" />
<circle cx="87.5" cy="193.8" r="1.7" fill="#e8262a" />
<circle cx="90.4" cy="199.4" r="1.7" fill="#e8262a" />
<circle cx="92.0" cy="208.6" r="1.7" fill="#e8262a" />
<text x="3.4" y="302.0" font-size="18" text-anchor="start" fill="#000" font-family="Liberation Sans, sans-serif" font-weight="bold" font-style="normal" >c</text>
<rect x="38.3" y="303.2" width="138.0" height="109.5" fill="none" stroke="#9a9a9a" stroke-width="0.9"/>
<line x1="38.20" y1="412.70" x2="38.20" y2="415.70" stroke="#9a9a9a" stroke-width="0.9" />
<text transform="translate(36.00,426.80) scale(0.85,1)" font-size="8.8" text-anchor="middle" fill="#333" font-family="Liberation Sans, sans-serif" font-style="normal" font-weight="normal">−15</text>
<line x1="61.17" y1="412.70" x2="61.17" y2="415.70" stroke="#9a9a9a" stroke-width="0.9" />
<text transform="translate(58.97,426.80) scale(0.85,1)" font-size="8.8" text-anchor="middle" fill="#333" font-family="Liberation Sans, sans-serif" font-style="normal" font-weight="normal">−10</text>
<line x1="84.13" y1="412.70" x2="84.13" y2="415.70" stroke="#9a9a9a" stroke-width="0.9" />
<text transform="translate(81.93,426.80) scale(0.85,1)" font-size="8.8" text-anchor="middle" fill="#333" font-family="Liberation Sans, sans-serif" font-style="normal" font-weight="normal">−5</text>
<line x1="107.10" y1="412.70" x2="107.10" y2="415.70" stroke="#9a9a9a" stroke-width="0.9" />
<text transform="translate(107.10,426.80) scale(0.85,1)" font-size="8.8" text-anchor="middle" fill="#333" font-family="Liberation Sans, sans-serif" font-style="normal" font-weight="normal">0</text>
<line x1="130.06" y1="412.70" x2="130.06" y2="415.70" stroke="#9a9a9a" stroke-width="0.9" />
<text transform="translate(130.06,426.80) scale(0.85,1)" font-size="8.8" text-anchor="middle" fill="#333" font-family="Liberation Sans, sans-serif" font-style="normal" font-weight="normal">5</text>
<line x1="153.03" y1="412.70" x2="153.03" y2="415.70" stroke="#9a9a9a" stroke-width="0.9" />
<text transform="translate(153.03,426.80) scale(0.85,1)" font-size="8.8" text-anchor="middle" fill="#333" font-family="Liberation Sans, sans-serif" font-style="normal" font-weight="normal">10</text>
<line x1="176.00" y1="412.70" x2="176.00" y2="415.70" stroke="#9a9a9a" stroke-width="0.9" />
<text transform="translate(176.00,426.80) scale(0.85,1)" font-size="8.8" text-anchor="middle" fill="#333" font-family="Liberation Sans, sans-serif" font-style="normal" font-weight="normal">15</text>
<line x1="49.69" y1="412.70" x2="49.69" y2="414.70" stroke="#9a9a9a" stroke-width="0.8" />
<line x1="72.65" y1="412.70" x2="72.65" y2="414.70" stroke="#9a9a9a" stroke-width="0.8" />
<line x1="95.62" y1="412.70" x2="95.62" y2="414.70" stroke="#9a9a9a" stroke-width="0.8" />
<line x1="118.58" y1="412.70" x2="118.58" y2="414.70" stroke="#9a9a9a" stroke-width="0.8" />
<line x1="141.55" y1="412.70" x2="141.55" y2="414.70" stroke="#9a9a9a" stroke-width="0.8" />
<line x1="164.51" y1="412.70" x2="164.51" y2="414.70" stroke="#9a9a9a" stroke-width="0.8" />
<line x1="34.30" y1="412.80" x2="38.30" y2="412.80" stroke="#9a9a9a" stroke-width="0.9" />
<text transform="translate(30.90,415.20) scale(0.85,1)" font-size="8.8" text-anchor="end" fill="#333" font-family="Liberation Sans, sans-serif" font-style="normal" font-weight="normal">−4</text>
<line x1="34.30" y1="385.60" x2="38.30" y2="385.60" stroke="#9a9a9a" stroke-width="0.9" />
<text transform="translate(30.90,388.00) scale(0.85,1)" font-size="8.8" text-anchor="end" fill="#333" font-family="Liberation Sans, sans-serif" font-style="normal" font-weight="normal">−2</text>
<line x1="34.30" y1="358.40" x2="38.30" y2="358.40" stroke="#9a9a9a" stroke-width="0.9" />
<text transform="translate(30.90,360.80) scale(0.85,1)" font-size="8.8" text-anchor="end" fill="#333" font-family="Liberation Sans, sans-serif" font-style="normal" font-weight="normal">0</text>
<line x1="34.30" y1="331.20" x2="38.30" y2="331.20" stroke="#9a9a9a" stroke-width="0.9" />
<text transform="translate(30.90,333.60) scale(0.85,1)" font-size="8.8" text-anchor="end" fill="#333" font-family="Liberation Sans, sans-serif" font-style="normal" font-weight="normal">2</text>
<line x1="34.30" y1="304.00" x2="38.30" y2="304.00" stroke="#9a9a9a" stroke-width="0.9" />
<text transform="translate(30.90,306.40) scale(0.85,1)" font-size="8.8" text-anchor="end" fill="#333" font-family="Liberation Sans, sans-serif" font-style="normal" font-weight="normal">4</text>
<line x1="35.80" y1="399.20" x2="38.30" y2="399.20" stroke="#9a9a9a" stroke-width="0.8" />
<line x1="35.80" y1="372.00" x2="38.30" y2="372.00" stroke="#9a9a9a" stroke-width="0.8" />
<line x1="35.80" y1="344.80" x2="38.30" y2="344.80" stroke="#9a9a9a" stroke-width="0.8" />
<line x1="35.80" y1="317.60" x2="38.30" y2="317.60" stroke="#9a9a9a" stroke-width="0.8" />
<text transform="translate(12.3,358) rotate(-90)" font-size="8.5" text-anchor="middle" fill="#3a3a3a" font-family="Liberation Sans, sans-serif"><tspan font-style="italic">R</tspan><tspan font-size="6" dy="1.8">Hall</tspan><tspan dy="-1.8"> (Ω)</tspan></text>
<text transform="translate(107,293.5) scale(0.88,1)" font-size="9.5" text-anchor="middle" fill="#333" font-family="Liberation Sans, sans-serif"><tspan font-style="italic">I</tspan> (mA)</text>
<text transform="translate(108.7,440.6) scale(0.88,1)" font-size="9.5" text-anchor="middle" fill="#333" font-family="Liberation Sans, sans-serif"><tspan font-style="italic">I</tspan> (mA)</text>
<polyline points="95.2,393.2 98.3,383.9 100.6,380.4 102.2,373.4 104.1,362.4 105.8,346.8 107.7,325.5 108.2,321.6" fill="none" stroke="#2d2d94" stroke-width="0.7" />
<polyline points="115.8,395.4 116.3,385.5 118.2,343.6 119.8,324.3 120.5,322.0" fill="none" stroke="#2d2d94" stroke-width="0.7" />
<rect x="48.5" y="388.8" width="2.8" height="2.8" fill="#2d2d94" />
<rect x="49.5" y="389.0" width="2.8" height="2.8" fill="#2d2d94" />
<rect x="50.5" y="389.1" width="2.8" height="2.8" fill="#2d2d94" />
<rect x="51.5" y="389.3" width="2.8" height="2.8" fill="#2d2d94" />
<rect x="52.5" y="389.4" width="2.8" height="2.8" fill="#2d2d94" />
<rect x="53.6" y="389.6" width="2.8" height="2.8" fill="#2d2d94" />
<rect x="54.6" y="389.8" width="2.8" height="2.8" fill="#2d2d94" />
<rect x="55.6" y="389.9" width="2.8" height="2.8" fill="#2d2d94" />
<rect x="56.6" y="390.1" width="2.8" height="2.8" fill="#2d2d94" />
<rect x="57.6" y="390.2" width="2.8" height="2.8" fill="#2d2d94" />
<rect x="58.6" y="390.4" width="2.8" height="2.8" fill="#2d2d94" />
<rect x="59.6" y="390.5" width="2.8" height="2.8" fill="#2d2d94" />
<rect x="60.6" y="390.6" width="2.8" height="2.8" fill="#2d2d94" />
<rect x="61.6" y="390.7" width="2.8" height="2.8" fill="#2d2d94" />
<rect x="62.6" y="390.8" width="2.8" height="2.8" fill="#2d2d94" />
<rect x="63.6" y="391.0" width="2.8" height="2.8" fill="#2d2d94" />
<rect x="64.6" y="391.1" width="2.8" height="2.8" fill="#2d2d94" />
<rect x="65.6" y="391.2" width="2.8" height="2.8" fill="#2d2d94" />
<rect x="66.6" y="391.3" width="2.8" height="2.8" fill="#2d2d94" />
<rect x="67.6" y="391.4" width="2.8" height="2.8" fill="#2d2d94" />
<rect x="68.6" y="391.5" width="2.8" height="2.8" fill="#2d2d94" />
<rect x="69.6" y="391.6" width="2.8" height="2.8" fill="#2d2d94" />
<rect x="70.6" y="391.7" width="2.8" height="2.8" fill="#2d2d94" />
<rect x="71.6" y="391.8" width="2.8" height="2.8" fill="#2d2d94" />
<rect x="72.6" y="391.9" width="2.8" height="2.8" fill="#2d2d94" />
<rect x="73.6" y="392.0" width="2.8" height="2.8" fill="#2d2d94" />
<rect x="74.6" y="392.0" width="2.8" height="2.8" fill="#2d2d94" />
<rect x="75.6" y="392.1" width="2.8" height="2.8" fill="#2d2d94" />
<rect x="76.6" y="392.2" width="2.8" height="2.8" fill="#2d2d94" />
<rect x="77.6" y="392.3" width="2.8" height="2.8" fill="#2d2d94" />
<rect x="78.6" y="392.4" width="2.8" height="2.8" fill="#2d2d94" />
<rect x="79.6" y="392.5" width="2.8" height="2.8" fill="#2d2d94" />
<rect x="80.6" y="392.5" width="2.8" height="2.8" fill="#2d2d94" />
<rect x="81.6" y="392.6" width="2.8" height="2.8" fill="#2d2d94" />
<rect x="82.6" y="392.6" width="2.8" height="2.8" fill="#2d2d94" />
<rect x="83.6" y="392.7" width="2.8" height="2.8" fill="#2d2d94" />
<rect x="84.6" y="392.8" width="2.8" height="2.8" fill="#2d2d94" />
<rect x="85.6" y="392.8" width="2.8" height="2.8" fill="#2d2d94" />
<rect x="86.6" y="392.9" width="2.8" height="2.8" fill="#2d2d94" />
<rect x="87.6" y="392.9" width="2.8" height="2.8" fill="#2d2d94" />
<rect x="88.6" y="393.0" width="2.8" height="2.8" fill="#2d2d94" />
<rect x="89.6" y="393.1" width="2.8" height="2.8" fill="#2d2d94" />
<rect x="90.6" y="393.1" width="2.8" height="2.8" fill="#2d2d94" />
<rect x="91.6" y="393.2" width="2.8" height="2.8" fill="#2d2d94" />
<rect x="92.6" y="393.2" width="2.8" height="2.8" fill="#2d2d94" />
<rect x="93.6" y="393.3" width="2.8" height="2.8" fill="#2d2d94" />
<rect x="94.6" y="393.4" width="2.8" height="2.8" fill="#2d2d94" />
<rect x="95.6" y="393.4" width="2.8" height="2.8" fill="#2d2d94" />
<rect x="96.6" y="393.5" width="2.8" height="2.8" fill="#2d2d94" />
<rect x="97.6" y="393.5" width="2.8" height="2.8" fill="#2d2d94" />
<rect x="98.6" y="393.6" width="2.8" height="2.8" fill="#2d2d94" />
<rect x="99.7" y="393.6" width="2.8" height="2.8" fill="#2d2d94" />
<rect x="100.7" y="393.7" width="2.8" height="2.8" fill="#2d2d94" />
<rect x="101.8" y="393.7" width="2.8" height="2.8" fill="#2d2d94" />
<rect x="102.8" y="393.7" width="2.8" height="2.8" fill="#2d2d94" />
<rect x="103.9" y="393.7" width="2.8" height="2.8" fill="#2d2d94" />
<rect x="104.9" y="393.8" width="2.8" height="2.8" fill="#2d2d94" />
<rect x="106.0" y="393.8" width="2.8" height="2.8" fill="#2d2d94" />
<rect x="107.0" y="393.8" width="2.8" height="2.8" fill="#2d2d94" />
<rect x="108.1" y="393.8" width="2.8" height="2.8" fill="#2d2d94" />
<rect x="109.1" y="393.9" width="2.8" height="2.8" fill="#2d2d94" />
<rect x="110.2" y="393.9" width="2.8" height="2.8" fill="#2d2d94" />
<rect x="111.2" y="393.9" width="2.8" height="2.8" fill="#2d2d94" />
<rect x="112.3" y="393.9" width="2.8" height="2.8" fill="#2d2d94" />
<rect x="113.3" y="394.0" width="2.8" height="2.8" fill="#2d2d94" />
<rect x="114.4" y="394.0" width="2.8" height="2.8" fill="#2d2d94" />
<rect x="106.8" y="320.2" width="2.8" height="2.8" fill="#2d2d94" />
<rect x="107.8" y="320.2" width="2.8" height="2.8" fill="#2d2d94" />
<rect x="108.8" y="320.2" width="2.8" height="2.8" fill="#2d2d94" />
<rect x="109.8" y="320.2" width="2.8" height="2.8" fill="#2d2d94" />
<rect x="110.9" y="320.2" width="2.8" height="2.8" fill="#2d2d94" />
<rect x="111.9" y="320.2" width="2.8" height="2.8" fill="#2d2d94" />
<rect x="112.9" y="320.2" width="2.8" height="2.8" fill="#2d2d94" />
<rect x="113.9" y="320.2" width="2.8" height="2.8" fill="#2d2d94" />
<rect x="114.9" y="320.2" width="2.8" height="2.8" fill="#2d2d94" />
<rect x="115.9" y="320.2" width="2.8" height="2.8" fill="#2d2d94" />
<rect x="117.0" y="320.2" width="2.8" height="2.8" fill="#2d2d94" />
<rect x="118.0" y="320.2" width="2.8" height="2.8" fill="#2d2d94" />
<rect x="119.0" y="320.2" width="2.8" height="2.8" fill="#2d2d94" />
<rect x="120.0" y="320.2" width="2.8" height="2.8" fill="#2d2d94" />
<rect x="121.0" y="320.2" width="2.8" height="2.8" fill="#2d2d94" />
<rect x="122.0" y="320.2" width="2.8" height="2.8" fill="#2d2d94" />
<rect x="123.1" y="320.2" width="2.8" height="2.8" fill="#2d2d94" />
<rect x="124.1" y="320.2" width="2.8" height="2.8" fill="#2d2d94" />
<rect x="125.1" y="320.2" width="2.8" height="2.8" fill="#2d2d94" />
<rect x="126.1" y="320.3" width="2.8" height="2.8" fill="#2d2d94" />
<rect x="127.2" y="320.4" width="2.8" height="2.8" fill="#2d2d94" />
<rect x="128.2" y="320.4" width="2.8" height="2.8" fill="#2d2d94" />
<rect x="129.3" y="320.5" width="2.8" height="2.8" fill="#2d2d94" />
<rect x="130.3" y="320.6" width="2.8" height="2.8" fill="#2d2d94" />
<rect x="131.3" y="320.7" width="2.8" height="2.8" fill="#2d2d94" />
<rect x="132.4" y="320.7" width="2.8" height="2.8" fill="#2d2d94" />
<rect x="133.4" y="320.8" width="2.8" height="2.8" fill="#2d2d94" />
<rect x="134.4" y="320.9" width="2.8" height="2.8" fill="#2d2d94" />
<rect x="135.5" y="321.0" width="2.8" height="2.8" fill="#2d2d94" />
<rect x="136.5" y="321.0" width="2.8" height="2.8" fill="#2d2d94" />
<rect x="137.6" y="321.1" width="2.8" height="2.8" fill="#2d2d94" />
<rect x="138.6" y="321.2" width="2.8" height="2.8" fill="#2d2d94" />
<rect x="139.6" y="321.3" width="2.8" height="2.8" fill="#2d2d94" />
<rect x="140.6" y="321.5" width="2.8" height="2.8" fill="#2d2d94" />
<rect x="141.6" y="321.6" width="2.8" height="2.8" fill="#2d2d94" />
<rect x="142.6" y="321.8" width="2.8" height="2.8" fill="#2d2d94" />
<rect x="143.6" y="321.9" width="2.8" height="2.8" fill="#2d2d94" />
<rect x="144.6" y="322.0" width="2.8" height="2.8" fill="#2d2d94" />
<rect x="145.6" y="322.2" width="2.8" height="2.8" fill="#2d2d94" />
<rect x="146.6" y="322.3" width="2.8" height="2.8" fill="#2d2d94" />
<rect x="147.6" y="322.5" width="2.8" height="2.8" fill="#2d2d94" />
<rect x="148.6" y="322.6" width="2.8" height="2.8" fill="#2d2d94" />
<rect x="149.6" y="322.8" width="2.8" height="2.8" fill="#2d2d94" />
<rect x="150.6" y="323.0" width="2.8" height="2.8" fill="#2d2d94" />
<rect x="151.6" y="323.2" width="2.8" height="2.8" fill="#2d2d94" />
<rect x="152.6" y="323.4" width="2.8" height="2.8" fill="#2d2d94" />
<rect x="153.6" y="323.6" width="2.8" height="2.8" fill="#2d2d94" />
<rect x="154.6" y="323.8" width="2.8" height="2.8" fill="#2d2d94" />
<rect x="155.6" y="324.0" width="2.8" height="2.8" fill="#2d2d94" />
<rect x="156.6" y="324.2" width="2.8" height="2.8" fill="#2d2d94" />
<rect x="157.6" y="324.5" width="2.8" height="2.8" fill="#2d2d94" />
<rect x="158.7" y="324.7" width="2.8" height="2.8" fill="#2d2d94" />
<rect x="159.7" y="325.0" width="2.8" height="2.8" fill="#2d2d94" />
<rect x="160.8" y="325.2" width="2.8" height="2.8" fill="#2d2d94" />
<rect x="161.8" y="325.5" width="2.8" height="2.8" fill="#2d2d94" />
<rect x="162.9" y="325.7" width="2.8" height="2.8" fill="#2d2d94" />
<rect x="163.9" y="326.0" width="2.8" height="2.8" fill="#2d2d94" />
<rect x="93.8" y="391.8" width="2.8" height="2.8" fill="#2d2d94" />
<rect x="96.9" y="382.5" width="2.8" height="2.8" fill="#2d2d94" />
<rect x="99.2" y="379.0" width="2.8" height="2.8" fill="#2d2d94" />
<rect x="100.8" y="372.0" width="2.8" height="2.8" fill="#2d2d94" />
<rect x="102.7" y="361.0" width="2.8" height="2.8" fill="#2d2d94" />
<rect x="104.4" y="345.4" width="2.8" height="2.8" fill="#2d2d94" />
<rect x="106.3" y="324.1" width="2.8" height="2.8" fill="#2d2d94" />
<rect x="106.8" y="320.2" width="2.8" height="2.8" fill="#2d2d94" />
<rect x="114.4" y="394.0" width="2.8" height="2.8" fill="#2d2d94" />
<rect x="114.9" y="384.1" width="2.8" height="2.8" fill="#2d2d94" />
<rect x="116.8" y="342.2" width="2.8" height="2.8" fill="#2d2d94" />
<rect x="118.4" y="322.9" width="2.8" height="2.8" fill="#2d2d94" />
<rect x="119.1" y="320.6" width="2.8" height="2.8" fill="#2d2d94" />
<text x="186.3" y="17.4" font-size="18" text-anchor="start" fill="#000" font-family="Liberation Sans, sans-serif" font-weight="bold" font-style="normal" >d</text>
<rect x="196.7" y="43.7" width="149.0" height="50.8" fill="#cdb02c" />
<path d="M218.8,43.9 Q219,28.5 237.8,28.5 L320.8,28.5 L320.8,43.9 Z" fill="#e8a52c"/>
<rect x="237.8" y="13.0" width="83.0" height="15.6" fill="#c0dcf0" />
<line x1="219.30" y1="43.90" x2="219.30" y2="113.60" stroke="#555" stroke-width="0.6" stroke-dasharray="3,1"/>
<line x1="238.20" y1="28.50" x2="238.20" y2="113.60" stroke="#555" stroke-width="0.6" stroke-dasharray="3,1"/>
<line x1="320.80" y1="28.50" x2="320.80" y2="113.60" stroke="#555" stroke-width="0.6" stroke-dasharray="3,1"/>
<text x="274.8" y="25.0" font-size="10" text-anchor="middle" fill="#1a1a1a" font-family="Liberation Serif, serif" font-weight="bold" font-style="normal" >MgO</text>
<text x="274.2" y="41.0" font-size="10" text-anchor="middle" fill="#1a1a1a" font-family="Liberation Serif, serif" font-weight="bold" font-style="normal" >CoFeB</text>
<text x="242.5" y="66.0" font-size="9" text-anchor="start" fill="#1a1a1a" font-family="Liberation Serif, serif" font-weight="bold" font-style="normal" >Ta</text>
<circle cx="299.8" cy="84" r="5.6" fill="none" stroke="#000" stroke-width="1.8"/>
<line x1="297.00" y1="81.20" x2="302.60" y2="86.80" stroke="#000" stroke-width="1.4" />
<line x1="302.60" y1="81.20" x2="297.00" y2="86.80" stroke="#000" stroke-width="1.4" />
<line x1="299.80" y1="77.60" x2="299.80" y2="61.50" stroke="#000" stroke-width="1.8" />
<polygon points="299.8,56.9 302.6,62.2 297.0,62.2" fill="#000" stroke="none" stroke-width="1" />
<line x1="305.60" y1="84.00" x2="327.80" y2="84.00" stroke="#000" stroke-width="1.8" />
<polygon points="333.6,84.0 327.2,81.2 327.2,86.8" fill="#000" stroke="none" stroke-width="1" />
<text x="300.8" y="56.1" font-size="8.8" text-anchor="middle" fill="#000" font-family="Liberation Serif, serif" font-weight="bold" font-style="normal" >Z</text>
<text x="288.3" y="84.7" font-size="12" text-anchor="middle" fill="#000" font-family="Liberation Serif, serif" font-weight="bold" font-style="normal" >y</text>
<text x="335.6" y="86.8" font-size="11.5" text-anchor="start" fill="#000" font-family="Liberation Serif, serif" font-weight="bold" font-style="normal" >x</text>
<polygon points="217.0,140.0 236.3,128.9 325.9,128.9 325.9,140.0" fill="#e8a330" stroke="none" stroke-width="1" />
<polygon points="236.3,128.9 241.5,125.0 321.2,125.0 325.9,128.9" fill="#a4561c" stroke="none" stroke-width="1" />
<text x="274.8" y="137.5" font-size="9" text-anchor="middle" fill="#1a1a1a" font-family="Liberation Serif, serif" font-weight="bold" font-style="normal" >CoFeB</text>
<polygon points="253.8,107.0 256.8,115.0 255.1,115.0 255.1,125.0 252.5,125.0 252.5,115.0 250.8,115.0" fill="#8e3aa0" stroke="none" stroke-width="1" />
<line x1="226.50" y1="131.50" x2="236.00" y2="126.00" stroke="#8e3aa0" stroke-width="2.4" />
<polygon points="239.6,124.2 233.5,124.8 236.5,129.0" fill="#8e3aa0" stroke="none" stroke-width="1" />
<text x="198.0" y="155.9" font-size="18" text-anchor="start" fill="#000" font-family="Liberation Sans, sans-serif" font-weight="bold" font-style="normal" >e</text>
<rect x="213.4" y="165.3" width="133.8" height="105.4" fill="none" stroke="#000" stroke-width="1.3"/>
<line x1="213.50" y1="270.70" x2="213.50" y2="267.20" stroke="#000" stroke-width="1" />
<text x="212.0" y="282.5" font-size="9.2" text-anchor="middle" fill="#000" font-family="Liberation Serif, serif" font-weight="normal" font-style="normal" >-600</text>
<line x1="247.00" y1="270.70" x2="247.00" y2="267.20" stroke="#000" stroke-width="1" />
<text x="245.5" y="282.5" font-size="9.2" text-anchor="middle" fill="#000" font-family="Liberation Serif, serif" font-weight="normal" font-style="normal" >-300</text>
<line x1="280.50" y1="270.70" x2="280.50" y2="267.20" stroke="#000" stroke-width="1" />
<text x="280.5" y="282.5" font-size="9.2" text-anchor="middle" fill="#000" font-family="Liberation Serif, serif" font-weight="normal" font-style="normal" >0</text>
<line x1="314.00" y1="270.70" x2="314.00" y2="267.20" stroke="#000" stroke-width="1" />
<text x="314.0" y="282.5" font-size="9.2" text-anchor="middle" fill="#000" font-family="Liberation Serif, serif" font-weight="normal" font-style="normal" >300</text>
<line x1="347.50" y1="270.70" x2="347.50" y2="267.20" stroke="#000" stroke-width="1" />
<text x="347.5" y="282.5" font-size="9.2" text-anchor="middle" fill="#000" font-family="Liberation Serif, serif" font-weight="normal" font-style="normal" >600</text>
<line x1="230.25" y1="270.70" x2="230.25" y2="268.70" stroke="#000" stroke-width="1" />
<line x1="263.75" y1="270.70" x2="263.75" y2="268.70" stroke="#000" stroke-width="1" />
<line x1="297.25" y1="270.70" x2="297.25" y2="268.70" stroke="#000" stroke-width="1" />
<line x1="330.75" y1="270.70" x2="330.75" y2="268.70" stroke="#000" stroke-width="1" />
<line x1="213.40" y1="252.70" x2="217.00" y2="252.70" stroke="#000" stroke-width="1" />
<text x="208.3" y="255.8" font-size="9" text-anchor="end" fill="#000" font-family="Liberation Serif, serif" font-weight="normal" font-style="normal" >-0.1</text>
<line x1="213.40" y1="217.80" x2="217.00" y2="217.80" stroke="#000" stroke-width="1" />
<text x="208.3" y="220.9" font-size="9" text-anchor="end" fill="#000" font-family="Liberation Serif, serif" font-weight="normal" font-style="normal" >0.0</text>
<line x1="213.40" y1="182.90" x2="217.00" y2="182.90" stroke="#000" stroke-width="1" />
<text x="208.3" y="186.0" font-size="9" text-anchor="end" fill="#000" font-family="Liberation Serif, serif" font-weight="normal" font-style="normal" >0.1</text>
<line x1="213.40" y1="270.15" x2="215.50" y2="270.15" stroke="#000" stroke-width="1" />
<line x1="213.40" y1="235.25" x2="215.50" y2="235.25" stroke="#000" stroke-width="1" />
<line x1="213.40" y1="200.35" x2="215.50" y2="200.35" stroke="#000" stroke-width="1" />
<text transform="translate(192.8,215.2) rotate(-90)" font-size="10.5" text-anchor="middle" font-family="Liberation Serif, serif"><tspan font-style="italic">R</tspan><tspan font-size="8" dy="1.5">AHE</tspan><tspan dy="-1.5"> (Ω)</tspan></text>
<text x="285" y="291.5" font-size="10" text-anchor="middle" font-family="Liberation Serif, serif"><tspan font-style="italic">H</tspan> (Oe)</text>
<line x1="247.80" y1="186.70" x2="247.80" y2="263.00" stroke="#888" stroke-width="0.7" />
<line x1="313.20" y1="175.00" x2="313.20" y2="248.50" stroke="#f08080" stroke-width="0.7" />
<rect x="220.9" y="259.5" width="3.2" height="3.2" fill="#000" />
<rect x="222.5" y="258.0" width="3.2" height="3.2" fill="#000" />
<rect x="223.6" y="258.6" width="3.2" height="3.2" fill="#000" />
<rect x="224.2" y="260.5" width="3.2" height="3.2" fill="#000" />
<rect x="225.3" y="261.1" width="3.2" height="3.2" fill="#000" />
<rect x="226.7" y="262.5" width="3.2" height="3.2" fill="#000" />
<rect x="227.8" y="263.3" width="3.2" height="3.2" fill="#000" />
<rect x="228.8" y="263.8" width="3.2" height="3.2" fill="#000" />
<rect x="230.2" y="264.2" width="3.2" height="3.2" fill="#000" />
<rect x="231.6" y="263.7" width="3.2" height="3.2" fill="#000" />
<rect x="233.1" y="262.8" width="3.2" height="3.2" fill="#000" />
<rect x="234.6" y="263.0" width="3.2" height="3.2" fill="#000" />
<rect x="235.6" y="262.2" width="3.2" height="3.2" fill="#000" />
<rect x="237.3" y="262.5" width="3.2" height="3.2" fill="#000" />
<rect x="238.6" y="262.7" width="3.2" height="3.2" fill="#000" />
<rect x="239.9" y="262.6" width="3.2" height="3.2" fill="#000" />
<rect x="241.1" y="262.3" width="3.2" height="3.2" fill="#000" />
<rect x="242.5" y="262.2" width="3.2" height="3.2" fill="#000" />
<rect x="244.1" y="261.4" width="3.2" height="3.2" fill="#000" />
<rect x="245.0" y="261.5" width="3.2" height="3.2" fill="#000" />
<rect x="246.8" y="261.7" width="3.2" height="3.2" fill="#000" />
<rect x="248.0" y="261.6" width="3.2" height="3.2" fill="#000" />
<rect x="245.6" y="184.8" width="3.2" height="3.2" fill="#000" />
<rect x="247.0" y="185.0" width="3.2" height="3.2" fill="#000" />
<rect x="248.6" y="185.3" width="3.2" height="3.2" fill="#000" />
<rect x="250.1" y="185.3" width="3.2" height="3.2" fill="#000" />
<rect x="251.6" y="185.3" width="3.2" height="3.2" fill="#000" />
<rect x="253.0" y="183.7" width="3.2" height="3.2" fill="#000" />
<rect x="254.6" y="184.2" width="3.2" height="3.2" fill="#000" />
<rect x="256.1" y="183.5" width="3.2" height="3.2" fill="#000" />
<rect x="257.5" y="182.8" width="3.2" height="3.2" fill="#000" />
<rect x="259.1" y="183.0" width="3.2" height="3.2" fill="#000" />
<rect x="260.3" y="182.2" width="3.2" height="3.2" fill="#000" />
<rect x="262.1" y="183.1" width="3.2" height="3.2" fill="#000" />
<rect x="263.2" y="182.7" width="3.2" height="3.2" fill="#000" />
<rect x="264.8" y="181.7" width="3.2" height="3.2" fill="#000" />
<rect x="266.3" y="182.2" width="3.2" height="3.2" fill="#000" />
<rect x="268.0" y="181.1" width="3.2" height="3.2" fill="#000" />
<rect x="269.3" y="180.8" width="3.2" height="3.2" fill="#000" />
<rect x="270.8" y="180.8" width="3.2" height="3.2" fill="#000" />
<rect x="272.3" y="181.3" width="3.2" height="3.2" fill="#000" />
<rect x="273.5" y="181.1" width="3.2" height="3.2" fill="#000" />
<rect x="274.9" y="179.9" width="3.2" height="3.2" fill="#000" />
<rect x="276.5" y="179.6" width="3.2" height="3.2" fill="#000" />
<rect x="277.6" y="180.2" width="3.2" height="3.2" fill="#000" />
<rect x="279.3" y="180.0" width="3.2" height="3.2" fill="#000" />
<rect x="280.3" y="180.9" width="3.2" height="3.2" fill="#000" />
<rect x="281.9" y="181.2" width="3.2" height="3.2" fill="#000" />
<rect x="283.6" y="180.6" width="3.2" height="3.2" fill="#000" />
<rect x="284.8" y="180.6" width="3.2" height="3.2" fill="#000" />
<rect x="286.3" y="180.6" width="3.2" height="3.2" fill="#000" />
<rect x="287.6" y="180.5" width="3.2" height="3.2" fill="#000" />
<rect x="289.3" y="180.3" width="3.2" height="3.2" fill="#000" />
<rect x="290.4" y="180.5" width="3.2" height="3.2" fill="#000" />
<rect x="291.7" y="179.9" width="3.2" height="3.2" fill="#000" />
<rect x="293.5" y="180.1" width="3.2" height="3.2" fill="#000" />
<rect x="294.7" y="179.5" width="3.2" height="3.2" fill="#000" />
<rect x="296.0" y="180.1" width="3.2" height="3.2" fill="#000" />
<rect x="297.2" y="180.1" width="3.2" height="3.2" fill="#000" />
<rect x="299.0" y="179.4" width="3.2" height="3.2" fill="#000" />
<rect x="299.1" y="178.5" width="3.2" height="3.2" fill="#000" />
<rect x="299.2" y="177.0" width="3.2" height="3.2" fill="#000" />
<rect x="299.2" y="176.1" width="3.2" height="3.2" fill="#000" />
<rect x="298.9" y="173.9" width="3.2" height="3.2" fill="#000" />
<rect x="300.6" y="174.6" width="3.2" height="3.2" fill="#000" />
<rect x="301.7" y="173.6" width="3.2" height="3.2" fill="#000" />
<rect x="303.2" y="173.1" width="3.2" height="3.2" fill="#000" />
<rect x="304.3" y="172.7" width="3.2" height="3.2" fill="#000" />
<rect x="305.6" y="172.5" width="3.2" height="3.2" fill="#000" />
<rect x="306.8" y="171.8" width="3.2" height="3.2" fill="#000" />
<rect x="308.3" y="170.8" width="3.2" height="3.2" fill="#000" />
<rect x="309.4" y="171.2" width="3.2" height="3.2" fill="#000" />
<rect x="311.0" y="170.1" width="3.2" height="3.2" fill="#000" />
<rect x="312.9" y="169.7" width="3.2" height="3.2" fill="#000" />
<rect x="314.2" y="169.5" width="3.2" height="3.2" fill="#000" />
<rect x="320.4" y="170.4" width="3.2" height="3.2" fill="#000" />
<rect x="329.4" y="168.2" width="3.2" height="3.2" fill="#000" />
<rect x="332.4" y="167.2" width="3.2" height="3.2" fill="#000" />
<rect x="335.4" y="166.7" width="3.2" height="3.2" fill="#000" />
<circle cx="220.5" cy="265.3" r="1.9" fill="#f01a1a" />
<circle cx="221.6" cy="264.8" r="1.9" fill="#f01a1a" />
<circle cx="223.1" cy="264.1" r="1.9" fill="#f01a1a" />
<circle cx="224.4" cy="263.1" r="1.9" fill="#f01a1a" />
<circle cx="224.9" cy="262.5" r="1.9" fill="#f01a1a" />
<circle cx="226.0" cy="261.3" r="1.9" fill="#f01a1a" />
<circle cx="226.3" cy="259.9" r="1.9" fill="#f01a1a" />
<circle cx="227.3" cy="259.0" r="1.9" fill="#f01a1a" />
<circle cx="228.2" cy="258.6" r="1.9" fill="#f01a1a" />
<circle cx="228.6" cy="257.0" r="1.9" fill="#f01a1a" />
<circle cx="230.0" cy="258.1" r="1.9" fill="#f01a1a" />
<circle cx="231.1" cy="258.6" r="1.9" fill="#f01a1a" />
<circle cx="231.7" cy="259.3" r="1.9" fill="#f01a1a" />
<circle cx="232.7" cy="260.4" r="1.9" fill="#f01a1a" />
<circle cx="233.0" cy="261.6" r="1.9" fill="#f01a1a" />
<circle cx="233.7" cy="262.7" r="1.9" fill="#f01a1a" />
<circle cx="234.6" cy="263.6" r="1.9" fill="#f01a1a" />
<circle cx="234.6" cy="265.4" r="1.9" fill="#f01a1a" />
<circle cx="235.7" cy="264.4" r="1.9" fill="#f01a1a" />
<circle cx="236.1" cy="263.3" r="1.9" fill="#f01a1a" />
<circle cx="237.0" cy="261.4" r="1.9" fill="#f01a1a" />
<circle cx="237.5" cy="260.9" r="1.9" fill="#f01a1a" />
<circle cx="238.1" cy="259.5" r="1.9" fill="#f01a1a" />
<circle cx="239.4" cy="259.1" r="1.9" fill="#f01a1a" />
<circle cx="240.9" cy="258.6" r="1.9" fill="#f01a1a" />
<circle cx="242.7" cy="258.6" r="1.9" fill="#f01a1a" />
<circle cx="244.3" cy="258.3" r="1.9" fill="#f01a1a" />
<circle cx="245.9" cy="259.0" r="1.9" fill="#f01a1a" />
<circle cx="247.5" cy="259.2" r="1.9" fill="#f01a1a" />
<circle cx="248.7" cy="258.7" r="1.9" fill="#f01a1a" />
<circle cx="249.5" cy="258.8" r="1.9" fill="#f01a1a" />
<circle cx="250.9" cy="258.2" r="1.9" fill="#f01a1a" />
<circle cx="252.4" cy="258.3" r="1.9" fill="#f01a1a" />
<circle cx="253.6" cy="258.6" r="1.9" fill="#f01a1a" />
<circle cx="255.0" cy="257.8" r="1.9" fill="#f01a1a" />
<circle cx="256.0" cy="258.1" r="1.9" fill="#f01a1a" />
<circle cx="257.3" cy="257.7" r="1.9" fill="#f01a1a" />
<circle cx="258.5" cy="256.8" r="1.9" fill="#f01a1a" />
<circle cx="259.8" cy="257.1" r="1.9" fill="#f01a1a" />
<circle cx="260.8" cy="256.8" r="1.9" fill="#f01a1a" />
<circle cx="262.4" cy="256.3" r="1.9" fill="#f01a1a" />
<circle cx="263.5" cy="255.1" r="1.9" fill="#f01a1a" />
<circle cx="264.5" cy="255.4" r="1.9" fill="#f01a1a" />
<circle cx="265.3" cy="254.4" r="1.9" fill="#f01a1a" />
<circle cx="267.0" cy="255.0" r="1.9" fill="#f01a1a" />
<circle cx="268.6" cy="255.3" r="1.9" fill="#f01a1a" />
<circle cx="270.4" cy="255.2" r="1.9" fill="#f01a1a" />
<circle cx="271.0" cy="256.1" r="1.9" fill="#f01a1a" />
<circle cx="272.0" cy="256.8" r="1.9" fill="#f01a1a" />
<circle cx="273.6" cy="258.4" r="1.9" fill="#f01a1a" />
<circle cx="274.6" cy="258.4" r="1.9" fill="#f01a1a" />
<circle cx="276.2" cy="258.6" r="1.9" fill="#f01a1a" />
<circle cx="277.8" cy="258.7" r="1.9" fill="#f01a1a" />
<circle cx="279.5" cy="258.1" r="1.9" fill="#f01a1a" />
<circle cx="280.8" cy="257.8" r="1.9" fill="#f01a1a" />
<circle cx="281.5" cy="257.1" r="1.9" fill="#f01a1a" />
<circle cx="282.6" cy="256.0" r="1.9" fill="#f01a1a" />
<circle cx="283.0" cy="254.8" r="1.9" fill="#f01a1a" />
<circle cx="283.9" cy="254.3" r="1.9" fill="#f01a1a" />
<circle cx="285.7" cy="253.3" r="1.9" fill="#f01a1a" />
<circle cx="287.3" cy="252.7" r="1.9" fill="#f01a1a" />
<circle cx="288.1" cy="251.7" r="1.9" fill="#f01a1a" />
<circle cx="289.2" cy="251.3" r="1.9" fill="#f01a1a" />
<circle cx="290.2" cy="250.5" r="1.9" fill="#f01a1a" />
<circle cx="291.7" cy="249.8" r="1.9" fill="#f01a1a" />
<circle cx="293.3" cy="250.0" r="1.9" fill="#f01a1a" />
<circle cx="294.5" cy="249.5" r="1.9" fill="#f01a1a" />
<circle cx="296.3" cy="250.0" r="1.9" fill="#f01a1a" />
<circle cx="298.1" cy="249.5" r="1.9" fill="#f01a1a" />
<circle cx="299.6" cy="249.9" r="1.9" fill="#f01a1a" />
<circle cx="300.5" cy="250.1" r="1.9" fill="#f01a1a" />
<circle cx="301.7" cy="250.9" r="1.9" fill="#f01a1a" />
<circle cx="303.3" cy="251.5" r="1.9" fill="#f01a1a" />
<circle cx="304.6" cy="250.5" r="1.9" fill="#f01a1a" />
<circle cx="305.9" cy="249.6" r="1.9" fill="#f01a1a" />
<circle cx="306.8" cy="248.9" r="1.9" fill="#f01a1a" />
<circle cx="307.9" cy="248.4" r="1.9" fill="#f01a1a" />
<circle cx="309.6" cy="248.2" r="1.9" fill="#f01a1a" />
<circle cx="310.5" cy="248.2" r="1.9" fill="#f01a1a" />
<circle cx="312.2" cy="248.2" r="1.9" fill="#f01a1a" />
<circle cx="312.9" cy="248.8" r="1.9" fill="#f01a1a" />
<circle cx="251.0" cy="255.0" r="1.9" fill="#f01a1a" />
<circle cx="312.8" cy="176.2" r="2.0" fill="#f01a1a" />
<circle cx="314.1" cy="175.4" r="2.0" fill="#f01a1a" />
<circle cx="315.3" cy="174.2" r="2.0" fill="#f01a1a" />
<circle cx="316.2" cy="172.9" r="2.0" fill="#f01a1a" />
<circle cx="317.2" cy="173.7" r="2.0" fill="#f01a1a" />
<circle cx="318.1" cy="172.7" r="2.0" fill="#f01a1a" />
<circle cx="319.1" cy="174.7" r="2.0" fill="#f01a1a" />
<circle cx="319.7" cy="173.8" r="2.0" fill="#f01a1a" />
<circle cx="321.0" cy="175.2" r="2.0" fill="#f01a1a" />
<circle cx="321.8" cy="173.2" r="2.0" fill="#f01a1a" />
<circle cx="322.8" cy="173.4" r="2.0" fill="#f01a1a" />
<circle cx="324.2" cy="172.3" r="2.0" fill="#f01a1a" />
<circle cx="324.6" cy="173.3" r="2.0" fill="#f01a1a" />
<circle cx="325.2" cy="174.3" r="2.0" fill="#f01a1a" />
<circle cx="325.7" cy="175.5" r="2.0" fill="#f01a1a" />
<circle cx="327.3" cy="174.6" r="2.0" fill="#f01a1a" />
<circle cx="328.1" cy="173.3" r="2.0" fill="#f01a1a" />
<circle cx="329.1" cy="174.0" r="2.0" fill="#f01a1a" />
<circle cx="330.1" cy="173.0" r="2.0" fill="#f01a1a" />
<circle cx="330.7" cy="174.1" r="2.0" fill="#f01a1a" />
<circle cx="331.6" cy="174.0" r="2.0" fill="#f01a1a" />
<circle cx="331.8" cy="176.0" r="2.0" fill="#f01a1a" />
<circle cx="332.9" cy="174.5" r="2.0" fill="#f01a1a" />
<circle cx="333.3" cy="173.9" r="2.0" fill="#f01a1a" />
<circle cx="333.8" cy="172.0" r="2.0" fill="#f01a1a" />
<circle cx="334.8" cy="172.3" r="2.0" fill="#f01a1a" />
<circle cx="335.9" cy="171.3" r="2.0" fill="#f01a1a" />
<circle cx="337.1" cy="172.4" r="2.0" fill="#f01a1a" />
<circle cx="325.5" cy="167.8" r="2.0" fill="#f01a1a" />
<circle cx="328.0" cy="177.5" r="2.0" fill="#f01a1a" />
<circle cx="317.0" cy="176.5" r="2.0" fill="#f01a1a" />
<circle cx="335.0" cy="170.0" r="2.0" fill="#f01a1a" />
<line x1="264.60" y1="245.00" x2="290.00" y2="245.00" stroke="#f03030" stroke-width="1" />
<polygon points="293.3,245.0 289.0,243.0 289.0,247.0" fill="#f03030" stroke="none" stroke-width="1" />
<line x1="268.00" y1="190.80" x2="293.00" y2="190.80" stroke="#333" stroke-width="1" />
<polygon points="265.7,190.8 270.0,188.8 270.0,192.8" fill="#333" stroke="none" stroke-width="1" />
<text x="194.0" y="309.6" font-size="18" text-anchor="start" fill="#000" font-family="Liberation Sans, sans-serif" font-weight="bold" font-style="normal" >f</text>
<line x1="207.10" y1="365.50" x2="207.10" y2="314.00" stroke="#000" stroke-width="1.6" />
<polygon points="207.1,311.5 205.2,317.0 209.0,317.0" fill="#000" stroke="none" stroke-width="1" />
<line x1="207.10" y1="327.30" x2="210.80" y2="327.30" stroke="#000" stroke-width="1" />
<line x1="207.10" y1="334.30" x2="210.10" y2="334.30" stroke="#000" stroke-width="1" />
<line x1="207.10" y1="341.30" x2="210.80" y2="341.30" stroke="#000" stroke-width="1" />
<line x1="207.10" y1="348.30" x2="210.10" y2="348.30" stroke="#000" stroke-width="1" />
<line x1="207.10" y1="355.30" x2="210.80" y2="355.30" stroke="#000" stroke-width="1" />
<line x1="207.10" y1="362.30" x2="210.10" y2="362.30" stroke="#000" stroke-width="1" />
<text x="202.6" y="330.3" font-size="8.5" text-anchor="end" fill="#000" font-family="Liberation Serif, serif" font-weight="normal" font-style="normal" >1</text>
<text x="203.2" y="344.1" font-size="8.5" text-anchor="end" fill="#000" font-family="Liberation Serif, serif" font-weight="normal" font-style="normal" >0</text>
<text x="202.6" y="358.4" font-size="8.5" text-anchor="end" fill="#000" font-family="Liberation Serif, serif" font-weight="normal" font-style="normal" >-1</text>
<line x1="207.10" y1="341.40" x2="344.00" y2="341.40" stroke="#000" stroke-width="1.1" />
<polygon points="348.6,341.4 342.6,339.5 342.6,343.3" fill="#000" stroke="none" stroke-width="1" />
<text transform="translate(192.3,340.2) rotate(-90)" font-size="9" text-anchor="middle" font-family="Liberation Serif, serif"><tspan font-style="italic">I</tspan><tspan font-size="7" dy="2" font-style="italic">p</tspan><tspan dy="-2"> (mA)</tspan></text>
<text x="330.0" y="349.5" font-size="8.2" text-anchor="start" fill="#000" font-family="Liberation Serif, serif" font-weight="normal" font-style="normal" >Time</text>
<line x1="227.10" y1="342.50" x2="227.10" y2="360.30" stroke="#222" stroke-width="1" stroke-dasharray="2.6,1.6"/>
<line x1="235.30" y1="342.50" x2="235.30" y2="360.30" stroke="#222" stroke-width="1" stroke-dasharray="2.6,1.6"/>
<line x1="227.10" y1="360.30" x2="235.30" y2="360.30" stroke="#222" stroke-width="1.2" />
<line x1="257.40" y1="342.50" x2="257.40" y2="360.30" stroke="#222" stroke-width="1" stroke-dasharray="2.6,1.6"/>
<line x1="266.30" y1="342.50" x2="266.30" y2="360.30" stroke="#222" stroke-width="1" stroke-dasharray="2.6,1.6"/>
<line x1="257.40" y1="360.30" x2="266.30" y2="360.30" stroke="#222" stroke-width="1.2" />
<line x1="288.40" y1="342.50" x2="288.40" y2="360.30" stroke="#222" stroke-width="1" stroke-dasharray="2.6,1.6"/>
<line x1="296.70" y1="342.50" x2="296.70" y2="360.30" stroke="#222" stroke-width="1" stroke-dasharray="2.6,1.6"/>
<line x1="288.40" y1="360.30" x2="296.70" y2="360.30" stroke="#222" stroke-width="1.2" />
<line x1="242.50" y1="340.00" x2="242.50" y2="323.90" stroke="#f02020" stroke-width="1" stroke-dasharray="2.6,1.6"/>
<line x1="250.70" y1="340.00" x2="250.70" y2="323.90" stroke="#f02020" stroke-width="1" stroke-dasharray="2.6,1.6"/>
<line x1="242.50" y1="323.90" x2="250.70" y2="323.90" stroke="#f02020" stroke-width="1.2" />
<line x1="272.90" y1="340.00" x2="272.90" y2="323.90" stroke="#f02020" stroke-width="1" stroke-dasharray="2.6,1.6"/>
<line x1="281.30" y1="340.00" x2="281.30" y2="323.90" stroke="#f02020" stroke-width="1" stroke-dasharray="2.6,1.6"/>
<line x1="272.90" y1="323.90" x2="281.30" y2="323.90" stroke="#f02020" stroke-width="1.2" />
<line x1="303.50" y1="340.00" x2="303.50" y2="323.90" stroke="#f02020" stroke-width="1" stroke-dasharray="2.6,1.6"/>
<line x1="311.70" y1="340.00" x2="311.70" y2="323.90" stroke="#f02020" stroke-width="1" stroke-dasharray="2.6,1.6"/>
<line x1="303.50" y1="323.90" x2="311.70" y2="323.90" stroke="#f02020" stroke-width="1.2" />
<line x1="207.10" y1="422.20" x2="207.10" y2="372.00" stroke="#000" stroke-width="1.6" />
<polygon points="207.1,369.3 205.2,374.8 209.0,374.8" fill="#000" stroke="none" stroke-width="1" />
<line x1="207.10" y1="376.65" x2="210.10" y2="376.65" stroke="#000" stroke-width="1" />
<line x1="207.10" y1="383.60" x2="210.80" y2="383.60" stroke="#000" stroke-width="1" />
<line x1="207.10" y1="390.55" x2="210.10" y2="390.55" stroke="#000" stroke-width="1" />
<line x1="207.10" y1="397.50" x2="210.80" y2="397.50" stroke="#000" stroke-width="1" />
<line x1="207.10" y1="404.45" x2="210.10" y2="404.45" stroke="#000" stroke-width="1" />
<line x1="207.10" y1="411.40" x2="210.80" y2="411.40" stroke="#000" stroke-width="1" />
<line x1="207.10" y1="418.35" x2="210.10" y2="418.35" stroke="#000" stroke-width="1" />
<text x="202.4" y="387.0" font-size="8" text-anchor="end" fill="#000" font-family="Liberation Serif, serif" font-weight="normal" font-style="normal" >0.1</text>
<text x="202.4" y="400.3" font-size="8" text-anchor="end" fill="#000" font-family="Liberation Serif, serif" font-weight="normal" font-style="normal" >0.0</text>
<text x="202.4" y="414.3" font-size="8" text-anchor="end" fill="#000" font-family="Liberation Serif, serif" font-weight="normal" font-style="normal" >-0.1</text>
<line x1="207.10" y1="397.70" x2="344.00" y2="397.70" stroke="#000" stroke-width="1.1" />
<polygon points="348.6,397.8 342.6,395.9 342.6,399.7" fill="#000" stroke="none" stroke-width="1" />
<text x="330.0" y="405.1" font-size="8.2" text-anchor="start" fill="#000" font-family="Liberation Serif, serif" font-weight="normal" font-style="normal" >Time</text>
<text transform="translate(186.6,394.4) rotate(-90)" font-size="8.2" text-anchor="middle" font-family="Liberation Serif, serif"><tspan font-style="italic">R</tspan><tspan font-size="6.5" dy="2">Hall</tspan><tspan dy="-2"> (Ω)</tspan></text>
<line x1="234.70" y1="382.80" x2="243.10" y2="382.80" stroke="#222" stroke-width="1.3" />
<line x1="265.40" y1="382.80" x2="273.70" y2="382.80" stroke="#222" stroke-width="1.3" />
<line x1="296.00" y1="382.80" x2="304.20" y2="382.80" stroke="#222" stroke-width="1.3" />
<line x1="250.10" y1="414.40" x2="257.90" y2="414.40" stroke="#f02020" stroke-width="1.3" />
<line x1="280.60" y1="418.60" x2="289.00" y2="418.60" stroke="#f02020" stroke-width="1.3" />
<line x1="311.20" y1="415.30" x2="319.60" y2="415.30" stroke="#f02020" stroke-width="1.3" />
<text x="358.2" y="11.1" font-size="20" text-anchor="start" fill="#000" font-family="Liberation Serif, serif" font-weight="bold" font-style="normal" >g</text>
<rect x="391.8" y="49.9" width="104.1" height="35.7" fill="url(#gfc)" />
<rect x="391.8" y="85.6" width="104.1" height="22.1" fill="#8c8cf2" />
<rect x="402.4" y="62.2" width="4.0" height="23.4" fill="url(#bstem)" />
<polygon points="404.4,50.7 409.5,63.2 399.3,63.2" fill="url(#bhead)" stroke="none" stroke-width="1" />
<rect x="418.2" y="64.3" width="3.8" height="21.3" fill="url(#bstem)" />
<polygon points="420.1,53.7 424.8,65.3 415.4,65.3" fill="url(#bhead)" stroke="none" stroke-width="1" />
<rect x="432.8" y="65.8" width="3.6" height="19.8" fill="url(#bstem)" />
<polygon points="434.6,55.9 438.9,66.8 430.3,66.8" fill="url(#bhead)" stroke="none" stroke-width="1" />
<rect x="448.2" y="67.7" width="3.4" height="17.9" fill="url(#bstem)" />
<polygon points="449.9,58.6 453.8,68.7 446.0,68.7" fill="url(#bhead)" stroke="none" stroke-width="1" />
<rect x="463.9" y="69.8" width="3.2" height="15.8" fill="url(#bstem)" />
<polygon points="465.5,61.6 469.0,70.8 462.0,70.8" fill="url(#bhead)" stroke="none" stroke-width="1" />
<rect x="481.0" y="71.6" width="3.0" height="14.0" fill="url(#bstem)" />
<polygon points="482.5,64.1 485.6,72.6 479.4,72.6" fill="url(#bhead)" stroke="none" stroke-width="1" />
<line x1="404.40" y1="33.60" x2="404.40" y2="49.60" stroke="#c81c1c" stroke-width="1.6" stroke-dasharray="1.2,1.1"/>
<polygon points="404.4,30.1 406.5,33.8 402.3,33.8" fill="#c81c1c" stroke="none" stroke-width="1" />
<line x1="404.40" y1="49.90" x2="412.80" y2="41.90" stroke="#4ab0e8" stroke-width="1.2" marker-end="url(#msot)"/>
<line x1="420.10" y1="33.60" x2="420.10" y2="49.60" stroke="#c81c1c" stroke-width="1.6" stroke-dasharray="1.2,1.1"/>
<polygon points="420.1,30.1 422.2,33.8 418.0,33.8" fill="#c81c1c" stroke="none" stroke-width="1" />
<line x1="420.10" y1="49.90" x2="429.00" y2="41.20" stroke="#4ab0e8" stroke-width="1.2" marker-end="url(#msot)"/>
<line x1="434.60" y1="33.60" x2="434.60" y2="49.60" stroke="#c81c1c" stroke-width="1.6" stroke-dasharray="1.2,1.1"/>
<polygon points="434.6,30.1 436.7,33.8 432.5,33.8" fill="#c81c1c" stroke="none" stroke-width="1" />
<line x1="434.60" y1="49.90" x2="443.70" y2="40.40" stroke="#4ab0e8" stroke-width="1.2" marker-end="url(#msot)"/>
<line x1="449.90" y1="33.60" x2="449.90" y2="49.60" stroke="#c81c1c" stroke-width="1.6" stroke-dasharray="1.2,1.1"/>
<polygon points="449.9,30.1 452.0,33.8 447.8,33.8" fill="#c81c1c" stroke="none" stroke-width="1" />
<line x1="449.90" y1="49.90" x2="460.30" y2="38.60" stroke="#4ab0e8" stroke-width="1.2" marker-end="url(#msot)"/>
<line x1="465.50" y1="33.60" x2="465.50" y2="49.60" stroke="#c81c1c" stroke-width="1.6" stroke-dasharray="1.2,1.1"/>
<polygon points="465.5,30.1 467.6,33.8 463.4,33.8" fill="#c81c1c" stroke="none" stroke-width="1" />
<line x1="465.50" y1="49.90" x2="478.50" y2="37.30" stroke="#4ab0e8" stroke-width="1.2" marker-end="url(#msot)"/>
<line x1="482.50" y1="33.60" x2="482.50" y2="49.60" stroke="#c81c1c" stroke-width="1.6" stroke-dasharray="1.2,1.1"/>
<polygon points="482.5,30.1 484.6,33.8 480.4,33.8" fill="#c81c1c" stroke="none" stroke-width="1" />
<line x1="482.50" y1="49.90" x2="498.80" y2="35.40" stroke="#4ab0e8" stroke-width="1.2" marker-end="url(#msot)"/>
<text x="479.6" y="28.7" font-size="11.2" fill="#cc2a2a" font-family="Liberation Sans, sans-serif" font-style="italic">H<tspan font-size="7.2" dy="3.2" font-style="normal">k</tspan></text>
<text x="497" y="32.8" font-size="10.8" fill="#5ab4e8" font-family="Liberation Sans, sans-serif" font-style="italic">H<tspan font-size="7.7" dy="3.1" font-style="normal">SOT</tspan></text>
<text x="389.4" y="73.0" font-size="8.2" text-anchor="end" fill="#222" font-family="Liberation Sans, sans-serif" font-weight="normal" font-style="normal" >GdFeCo</text>
<circle cx="438.7" cy="97.6" r="6.2" fill="none" stroke="#e02828" stroke-width="1.3"/>
<circle cx="438.7" cy="97.6" r="1.5" fill="#e82020" />
<text x="448.2" y="102.6" font-size="11.8" fill="#e02828" font-family="Liberation Sans, sans-serif" font-style="italic">J<tspan font-size="6.5" dy="2.9" font-style="normal">e</tspan></text>
<text x="481.1" y="101.0" font-size="8.6" text-anchor="start" fill="#111" font-family="Liberation Sans, sans-serif" font-weight="normal" font-style="normal" >Ta</text>
<line x1="382.60" y1="112.50" x2="382.60" y2="93.50" stroke="#000" stroke-width="1" marker-end="url(#mblk)"/>
<line x1="382.60" y1="112.50" x2="400.70" y2="112.50" stroke="#000" stroke-width="1" marker-end="url(#mblk)"/>
<line x1="382.60" y1="112.50" x2="369.90" y2="124.30" stroke="#000" stroke-width="1" marker-end="url(#mblk)"/>
<text x="382.8" y="92.0" font-size="9.5" text-anchor="middle" fill="#111" font-family="Liberation Sans, sans-serif" font-weight="normal" font-style="italic" >z</text>
<text x="401.5" y="115.0" font-size="9.5" text-anchor="start" fill="#111" font-family="Liberation Sans, sans-serif" font-weight="normal" font-style="italic" >y</text>
<text x="366.0" y="131.0" font-size="9.5" text-anchor="middle" fill="#111" font-family="Liberation Sans, sans-serif" font-weight="normal" font-style="italic" >x</text>
<polygon points="413.9,112.6 480.0,112.6 480.0,110.5 486.4,114.6 480.0,118.7 480.0,116.6 413.9,116.6" fill="#3f64aa" stroke="none" stroke-width="1" />
<path d="M439.9,120.3 L445.6,120.3 L442.75,127.8 Z" fill="none" stroke="#111" stroke-width="1.0" stroke-linejoin="round"/>
<text x="445.8" y="127.9" font-size="11" fill="#111" font-family="Liberation Sans, sans-serif"><tspan font-style="italic">M</tspan><tspan font-size="7.5" dy="2.3">s</tspan></text>
<text x="360.6" y="165.4" font-size="18" text-anchor="start" fill="#000" font-family="Liberation Sans, sans-serif" font-weight="bold" font-style="normal" >h</text>
<rect x="392.1" y="170.3" width="107.3" height="21.8" fill="#a9d88c" />
<rect x="392.1" y="192.1" width="107.3" height="30.0" fill="#eca45e" />
<rect x="392.1" y="222.1" width="107.3" height="22.0" fill="#8c8cf2" />
<linearGradient id="hs0" x1="0" x2="1"><stop offset="0" stop-color="#1a2e58"/><stop offset="0.45" stop-color="#3a5a90"/><stop offset="1" stop-color="#1a2e58"/></linearGradient>
<linearGradient id="hh0" x1="0" x2="1"><stop offset="0" stop-color="#3a5a90"/><stop offset="0.5" stop-color="#1a2e58"/><stop offset="1" stop-color="#3a5a90"/></linearGradient>
<rect x="399.7" y="202.5" width="3.4" height="19.6" fill="url(#hs0)" />
<polygon points="401.4,192.3 406.1,203.8 396.7,203.8" fill="url(#hh0)" stroke="none" stroke-width="1" />
<line x1="401.40" y1="167.70" x2="401.40" y2="191.80" stroke="#c81c1c" stroke-width="1.6" stroke-dasharray="1.2,1.1"/>
<polygon points="401.4,164.2 403.6,168.0 399.2,168.0" fill="#c81c1c" stroke="none" stroke-width="1" />
<line x1="401.40" y1="192.10" x2="411.90" y2="181.20" stroke="#4ab0e8" stroke-width="1.2" marker-end="url(#msot)"/>
<linearGradient id="hs1" x1="0" x2="1"><stop offset="0" stop-color="#223a6a"/><stop offset="0.45" stop-color="#48689c"/><stop offset="1" stop-color="#223a6a"/></linearGradient>
<linearGradient id="hh1" x1="0" x2="1"><stop offset="0" stop-color="#48689c"/><stop offset="0.5" stop-color="#223a6a"/><stop offset="1" stop-color="#48689c"/></linearGradient>
<rect x="416.7" y="202.5" width="3.4" height="19.6" fill="url(#hs1)" />
<polygon points="418.4,192.3 423.1,203.8 413.7,203.8" fill="url(#hh1)" stroke="none" stroke-width="1" />
<line x1="418.40" y1="170.00" x2="418.40" y2="191.80" stroke="#c81c1c" stroke-width="1.6" stroke-dasharray="1.2,1.1"/>
<polygon points="418.4,166.5 420.6,170.3 416.2,170.3" fill="#c81c1c" stroke="none" stroke-width="1" />
<line x1="418.40" y1="192.10" x2="428.90" y2="181.20" stroke="#4ab0e8" stroke-width="1.2" marker-end="url(#msot)"/>
<linearGradient id="hs2" x1="0" x2="1"><stop offset="0" stop-color="#2e4a80"/><stop offset="0.45" stop-color="#5a7aac"/><stop offset="1" stop-color="#2e4a80"/></linearGradient>
<linearGradient id="hh2" x1="0" x2="1"><stop offset="0" stop-color="#5a7aac"/><stop offset="0.5" stop-color="#2e4a80"/><stop offset="1" stop-color="#5a7aac"/></linearGradient>
<rect x="433.6" y="202.5" width="3.4" height="19.6" fill="url(#hs2)" />
<polygon points="435.3,192.3 440.0,203.8 430.6,203.8" fill="url(#hh2)" stroke="none" stroke-width="1" />
<line x1="435.30" y1="175.00" x2="435.30" y2="191.80" stroke="#c81c1c" stroke-width="1.6" stroke-dasharray="1.2,1.1"/>
<polygon points="435.3,171.5 437.5,175.3 433.1,175.3" fill="#c81c1c" stroke="none" stroke-width="1" />
<line x1="435.30" y1="192.10" x2="445.80" y2="181.20" stroke="#4ab0e8" stroke-width="1.2" marker-end="url(#msot)"/>
<linearGradient id="hs3" x1="0" x2="1"><stop offset="0" stop-color="#43609a"/><stop offset="0.45" stop-color="#7890bc"/><stop offset="1" stop-color="#43609a"/></linearGradient>
<linearGradient id="hh3" x1="0" x2="1"><stop offset="0" stop-color="#7890bc"/><stop offset="0.5" stop-color="#43609a"/><stop offset="1" stop-color="#7890bc"/></linearGradient>
<rect x="451.5" y="202.5" width="3.4" height="19.6" fill="url(#hs3)" />
<polygon points="453.2,192.3 457.9,203.8 448.5,203.8" fill="url(#hh3)" stroke="none" stroke-width="1" />
<line x1="453.20" y1="178.60" x2="453.20" y2="191.80" stroke="#c81c1c" stroke-width="1.6" stroke-dasharray="1.2,1.1"/>
<polygon points="453.2,175.1 455.4,178.9 451.0,178.9" fill="#c81c1c" stroke="none" stroke-width="1" />
<line x1="453.20" y1="192.10" x2="463.70" y2="181.20" stroke="#4ab0e8" stroke-width="1.2" marker-end="url(#msot)"/>
<linearGradient id="hs4" x1="0" x2="1"><stop offset="0" stop-color="#5a78aa"/><stop offset="0.45" stop-color="#93a8cc"/><stop offset="1" stop-color="#5a78aa"/></linearGradient>
<linearGradient id="hh4" x1="0" x2="1"><stop offset="0" stop-color="#93a8cc"/><stop offset="0.5" stop-color="#5a78aa"/><stop offset="1" stop-color="#93a8cc"/></linearGradient>
<rect x="469.6" y="202.5" width="3.4" height="19.6" fill="url(#hs4)" />
<polygon points="471.3,192.3 476.0,203.8 466.6,203.8" fill="url(#hh4)" stroke="none" stroke-width="1" />
<line x1="471.30" y1="180.60" x2="471.30" y2="191.80" stroke="#c81c1c" stroke-width="1.6" stroke-dasharray="1.2,1.1"/>
<polygon points="471.3,177.1 473.5,180.9 469.1,180.9" fill="#c81c1c" stroke="none" stroke-width="1" />
<line x1="471.30" y1="192.10" x2="481.80" y2="181.20" stroke="#4ab0e8" stroke-width="1.2" marker-end="url(#msot)"/>
<linearGradient id="hs5" x1="0" x2="1"><stop offset="0" stop-color="#7890b8"/><stop offset="0.45" stop-color="#b8c8e0"/><stop offset="1" stop-color="#7890b8"/></linearGradient>
<linearGradient id="hh5" x1="0" x2="1"><stop offset="0" stop-color="#b8c8e0"/><stop offset="0.5" stop-color="#7890b8"/><stop offset="1" stop-color="#b8c8e0"/></linearGradient>
<rect x="487.3" y="202.5" width="3.4" height="19.6" fill="url(#hs5)" />
<polygon points="489.0,192.3 493.7,203.8 484.3,203.8" fill="url(#hh5)" stroke="none" stroke-width="1" />
<line x1="489.00" y1="183.60" x2="489.00" y2="191.80" stroke="#c81c1c" stroke-width="1.6" stroke-dasharray="1.2,1.1"/>
<polygon points="489.0,180.1 491.2,183.9 486.8,183.9" fill="#c81c1c" stroke="none" stroke-width="1" />
<line x1="489.00" y1="192.10" x2="499.50" y2="181.20" stroke="#4ab0e8" stroke-width="1.2" marker-end="url(#msot)"/>
<text x="486" y="176.9" font-size="10.7" fill="#cc2a2a" font-family="Liberation Sans, sans-serif" font-style="italic">H<tspan font-size="7.2" dy="2.8" font-style="normal">k</tspan></text>
<text x="500.9" y="179.8" font-size="10.7" fill="#5ab4e8" font-family="Liberation Sans, sans-serif" font-style="italic">H<tspan font-size="7.7" dy="3.1" font-style="normal">SOT</tspan></text>
<text x="388.8" y="184.8" font-size="8.4" text-anchor="end" fill="#222" font-family="Liberation Sans, sans-serif" font-weight="normal" font-style="normal" >MgO</text>
<text x="388.8" y="210.7" font-size="8.15" text-anchor="end" fill="#222" font-family="Liberation Sans, sans-serif" font-weight="normal" font-style="normal" >CoFeB</text>
<circle cx="438.9" cy="233.7" r="6.3" fill="none" stroke="#e02828" stroke-width="1.3"/>
<circle cx="438.9" cy="233.7" r="1.5" fill="#e82020" />
<text x="449.4" y="238.8" font-size="11.5" fill="#e02828" font-family="Liberation Sans, sans-serif" font-style="italic">J<tspan font-size="6.5" dy="2.7" font-style="normal">e</tspan></text>
<text x="483.2" y="236.5" font-size="9" text-anchor="start" fill="#111" font-family="Liberation Sans, sans-serif" font-weight="normal" font-style="normal" >Ta</text>
<line x1="381.50" y1="252.00" x2="381.50" y2="234.20" stroke="#000" stroke-width="1" marker-end="url(#mblk)"/>
<line x1="381.50" y1="252.00" x2="400.90" y2="252.00" stroke="#000" stroke-width="1" marker-end="url(#mblk)"/>
<line x1="381.50" y1="252.00" x2="368.20" y2="265.90" stroke="#000" stroke-width="1" marker-end="url(#mblk)"/>
<text x="381.8" y="233.5" font-size="9.5" text-anchor="middle" fill="#111" font-family="Liberation Sans, sans-serif" font-weight="normal" font-style="italic" >z</text>
<text x="404.2" y="255.0" font-size="9.5" text-anchor="start" fill="#111" font-family="Liberation Sans, sans-serif" font-weight="normal" font-style="italic" >y</text>
<text x="365.4" y="270.8" font-size="9.5" text-anchor="middle" fill="#111" font-family="Liberation Sans, sans-serif" font-weight="normal" font-style="italic" >x</text>
<polygon points="419.3,250.3 487.0,250.3 487.0,248.2 493.0,252.0 487.0,255.8 487.0,253.7 419.3,253.7" fill="url(#nh)" stroke="none" stroke-width="1" />
<path d="M447.2,256.3 L452.8,256.3 L450,263.5 Z" fill="none" stroke="#111" stroke-width="1.0" stroke-linejoin="round"/>
<text x="453.6" y="263.6" font-size="10.5" fill="#111" font-family="Liberation Sans, sans-serif"><tspan font-style="italic">H</tspan><tspan font-size="7.5" dy="2.6">k</tspan></text>
<text x="359.2" y="309.5" font-size="18" text-anchor="start" fill="#000" font-family="Liberation Sans, sans-serif" font-weight="bold" font-style="normal" >i</text>
<rect x="382.7" y="307.5" width="134.5" height="100.3" fill="none" stroke="#111" stroke-width="1"/>
<line x1="383.20" y1="407.80" x2="383.20" y2="405.60" stroke="#111" stroke-width="0.9" />
<text x="383.2" y="417.6" font-size="8.7" text-anchor="middle" fill="#1a1a1a" font-family="Liberation Sans, sans-serif" font-weight="normal" font-style="normal" >-20</text>
<line x1="416.90" y1="407.80" x2="416.90" y2="405.60" stroke="#111" stroke-width="0.9" />
<text x="416.9" y="417.6" font-size="8.7" text-anchor="middle" fill="#1a1a1a" font-family="Liberation Sans, sans-serif" font-weight="normal" font-style="normal" >-10</text>
<line x1="450.60" y1="407.80" x2="450.60" y2="405.60" stroke="#111" stroke-width="0.9" />
<text x="450.6" y="417.6" font-size="8.7" text-anchor="middle" fill="#1a1a1a" font-family="Liberation Sans, sans-serif" font-weight="normal" font-style="normal" >0</text>
<line x1="484.30" y1="407.80" x2="484.30" y2="405.60" stroke="#111" stroke-width="0.9" />
<text x="484.3" y="417.6" font-size="8.7" text-anchor="middle" fill="#1a1a1a" font-family="Liberation Sans, sans-serif" font-weight="normal" font-style="normal" >10</text>
<line x1="518.00" y1="407.80" x2="518.00" y2="405.60" stroke="#111" stroke-width="0.9" />
<text x="518.0" y="417.6" font-size="8.7" text-anchor="middle" fill="#1a1a1a" font-family="Liberation Sans, sans-serif" font-weight="normal" font-style="normal" >20</text>
<line x1="400.05" y1="407.80" x2="400.05" y2="406.30" stroke="#111" stroke-width="0.9" />
<line x1="433.75" y1="407.80" x2="433.75" y2="406.30" stroke="#111" stroke-width="0.9" />
<line x1="467.45" y1="407.80" x2="467.45" y2="406.30" stroke="#111" stroke-width="0.9" />
<line x1="501.15" y1="407.80" x2="501.15" y2="406.30" stroke="#111" stroke-width="0.9" />
<line x1="382.70" y1="398.90" x2="384.90" y2="398.90" stroke="#111" stroke-width="0.9" />
<text x="380.1" y="402.0" font-size="8.7" text-anchor="end" fill="#1a1a1a" font-family="Liberation Sans, sans-serif" font-weight="normal" font-style="normal" >-2</text>
<line x1="382.70" y1="378.45" x2="384.90" y2="378.45" stroke="#111" stroke-width="0.9" />
<text x="380.1" y="381.6" font-size="8.7" text-anchor="end" fill="#1a1a1a" font-family="Liberation Sans, sans-serif" font-weight="normal" font-style="normal" >-1</text>
<line x1="382.70" y1="358.00" x2="384.90" y2="358.00" stroke="#111" stroke-width="0.9" />
<text x="380.1" y="361.1" font-size="8.7" text-anchor="end" fill="#1a1a1a" font-family="Liberation Sans, sans-serif" font-weight="normal" font-style="normal" >0</text>
<line x1="382.70" y1="337.55" x2="384.90" y2="337.55" stroke="#111" stroke-width="0.9" />
<text x="380.1" y="340.7" font-size="8.7" text-anchor="end" fill="#1a1a1a" font-family="Liberation Sans, sans-serif" font-weight="normal" font-style="normal" >1</text>
<line x1="382.70" y1="317.10" x2="384.90" y2="317.10" stroke="#111" stroke-width="0.9" />
<text x="380.1" y="320.2" font-size="8.7" text-anchor="end" fill="#1a1a1a" font-family="Liberation Sans, sans-serif" font-weight="normal" font-style="normal" >2</text>
<line x1="382.70" y1="388.68" x2="384.20" y2="388.68" stroke="#111" stroke-width="0.9" />
<line x1="382.70" y1="368.23" x2="384.20" y2="368.23" stroke="#111" stroke-width="0.9" />
<line x1="382.70" y1="347.77" x2="384.20" y2="347.77" stroke="#111" stroke-width="0.9" />
<line x1="382.70" y1="327.32" x2="384.20" y2="327.32" stroke="#111" stroke-width="0.9" />
<text transform="translate(368.2,358.7) rotate(-90)" font-size="9.5" text-anchor="middle" fill="#222" font-family="Liberation Sans, sans-serif"><tspan font-style="italic">R</tspan><tspan font-size="7" dy="2" font-style="italic">xy</tspan><tspan dy="-2"> (Ω)</tspan></text>
<text x="424" y="428.5" font-size="9" fill="#222" font-family="Liberation Sans, sans-serif"><tspan font-style="italic">J</tspan><tspan font-size="6.5" dy="2">e</tspan><tspan dy="-2"> (10</tspan><tspan font-size="6.5" dy="-3.5">6</tspan><tspan dy="3.5"> A cm</tspan><tspan font-size="6.5" dy="-3.5">-2</tspan><tspan dy="3.5">)</tspan></text>
<line x1="387.50" y1="317.20" x2="398.30" y2="317.20" stroke="#222" stroke-width="1" />
<circle cx="392.6" cy="317.2" r="1.4" fill="#fff" stroke="#222" stroke-width="0.8"/>
<text x="400.8" y="320.4" font-size="8.9" text-anchor="start" fill="#1a1a1a" font-family="Liberation Sans, sans-serif" font-weight="normal" font-style="normal" >Field-free</text>
<polyline points="469.1,391.7 471.8,364.1 473.9,329.4 475.9,323.2" fill="none" stroke="#111" stroke-width="1.3" />
<polyline points="432.1,323.2 429.4,339.6 427.0,384.6 425.0,391.1" fill="none" stroke="#111" stroke-width="1.3" />
<line x1="393.31" y1="391.74" x2="469.14" y2="391.74" stroke="#222" stroke-width="0.8" />
<line x1="432.06" y1="323.24" x2="507.89" y2="323.24" stroke="#222" stroke-width="0.8" />
<circle cx="393.3" cy="391.7" r="1.35" fill="#fff" stroke="#111" stroke-width="1"/>
<circle cx="395.6" cy="391.7" r="1.35" fill="#fff" stroke="#111" stroke-width="1"/>
<circle cx="398.0" cy="391.7" r="1.35" fill="#fff" stroke="#111" stroke-width="1"/>
<circle cx="400.3" cy="391.7" r="1.35" fill="#fff" stroke="#111" stroke-width="1"/>
<circle cx="402.6" cy="391.7" r="1.35" fill="#fff" stroke="#111" stroke-width="1"/>
<circle cx="405.0" cy="391.7" r="1.35" fill="#fff" stroke="#111" stroke-width="1"/>
<circle cx="407.3" cy="391.7" r="1.35" fill="#fff" stroke="#111" stroke-width="1"/>
<circle cx="409.6" cy="391.7" r="1.35" fill="#fff" stroke="#111" stroke-width="1"/>
<circle cx="411.9" cy="391.7" r="1.35" fill="#fff" stroke="#111" stroke-width="1"/>
<circle cx="414.3" cy="391.7" r="1.35" fill="#fff" stroke="#111" stroke-width="1"/>
<circle cx="416.6" cy="391.7" r="1.35" fill="#fff" stroke="#111" stroke-width="1"/>
<circle cx="418.9" cy="391.7" r="1.35" fill="#fff" stroke="#111" stroke-width="1"/>
<circle cx="421.3" cy="391.7" r="1.35" fill="#fff" stroke="#111" stroke-width="1"/>
<circle cx="423.6" cy="391.7" r="1.35" fill="#fff" stroke="#111" stroke-width="1"/>
<circle cx="425.9" cy="391.7" r="1.35" fill="#fff" stroke="#111" stroke-width="1"/>
<circle cx="428.3" cy="391.7" r="1.35" fill="#fff" stroke="#111" stroke-width="1"/>
<circle cx="430.6" cy="391.7" r="1.35" fill="#fff" stroke="#111" stroke-width="1"/>
<circle cx="432.9" cy="391.7" r="1.35" fill="#fff" stroke="#111" stroke-width="1"/>
<circle cx="435.2" cy="391.7" r="1.35" fill="#fff" stroke="#111" stroke-width="1"/>
<circle cx="437.6" cy="391.7" r="1.35" fill="#fff" stroke="#111" stroke-width="1"/>
<circle cx="439.9" cy="391.7" r="1.35" fill="#fff" stroke="#111" stroke-width="1"/>
<circle cx="442.2" cy="391.7" r="1.35" fill="#fff" stroke="#111" stroke-width="1"/>
<circle cx="444.6" cy="391.7" r="1.35" fill="#fff" stroke="#111" stroke-width="1"/>
<circle cx="446.9" cy="391.7" r="1.35" fill="#fff" stroke="#111" stroke-width="1"/>
<circle cx="449.2" cy="391.7" r="1.35" fill="#fff" stroke="#111" stroke-width="1"/>
<circle cx="451.6" cy="391.7" r="1.35" fill="#fff" stroke="#111" stroke-width="1"/>
<circle cx="453.9" cy="391.7" r="1.35" fill="#fff" stroke="#111" stroke-width="1"/>
<circle cx="456.2" cy="391.7" r="1.35" fill="#fff" stroke="#111" stroke-width="1"/>
<circle cx="458.6" cy="391.7" r="1.35" fill="#fff" stroke="#111" stroke-width="1"/>
<circle cx="460.9" cy="391.7" r="1.35" fill="#fff" stroke="#111" stroke-width="1"/>
<circle cx="463.2" cy="391.7" r="1.35" fill="#fff" stroke="#111" stroke-width="1"/>
<circle cx="465.5" cy="391.7" r="1.35" fill="#fff" stroke="#111" stroke-width="1"/>
<circle cx="467.9" cy="391.7" r="1.35" fill="#fff" stroke="#111" stroke-width="1"/>
<circle cx="432.1" cy="323.2" r="1.35" fill="#fff" stroke="#111" stroke-width="1"/>
<circle cx="434.4" cy="323.2" r="1.35" fill="#fff" stroke="#111" stroke-width="1"/>
<circle cx="436.7" cy="323.2" r="1.35" fill="#fff" stroke="#111" stroke-width="1"/>
<circle cx="439.1" cy="323.2" r="1.35" fill="#fff" stroke="#111" stroke-width="1"/>
<circle cx="441.4" cy="323.2" r="1.35" fill="#fff" stroke="#111" stroke-width="1"/>
<circle cx="443.7" cy="323.2" r="1.35" fill="#fff" stroke="#111" stroke-width="1"/>
<circle cx="446.0" cy="323.2" r="1.35" fill="#fff" stroke="#111" stroke-width="1"/>
<circle cx="448.4" cy="323.2" r="1.35" fill="#fff" stroke="#111" stroke-width="1"/>
<circle cx="450.7" cy="323.2" r="1.35" fill="#fff" stroke="#111" stroke-width="1"/>
<circle cx="453.0" cy="323.2" r="1.35" fill="#fff" stroke="#111" stroke-width="1"/>
<circle cx="455.4" cy="323.2" r="1.35" fill="#fff" stroke="#111" stroke-width="1"/>
<circle cx="457.7" cy="323.2" r="1.35" fill="#fff" stroke="#111" stroke-width="1"/>
<circle cx="460.0" cy="323.2" r="1.35" fill="#fff" stroke="#111" stroke-width="1"/>
<circle cx="462.4" cy="323.2" r="1.35" fill="#fff" stroke="#111" stroke-width="1"/>
<circle cx="464.7" cy="323.2" r="1.35" fill="#fff" stroke="#111" stroke-width="1"/>
<circle cx="467.0" cy="323.2" r="1.35" fill="#fff" stroke="#111" stroke-width="1"/>
<circle cx="469.3" cy="323.2" r="1.35" fill="#fff" stroke="#111" stroke-width="1"/>
<circle cx="471.7" cy="323.2" r="1.35" fill="#fff" stroke="#111" stroke-width="1"/>
<circle cx="474.0" cy="323.2" r="1.35" fill="#fff" stroke="#111" stroke-width="1"/>
<circle cx="476.3" cy="323.2" r="1.35" fill="#fff" stroke="#111" stroke-width="1"/>
<circle cx="478.7" cy="323.2" r="1.35" fill="#fff" stroke="#111" stroke-width="1"/>
<circle cx="481.0" cy="323.2" r="1.35" fill="#fff" stroke="#111" stroke-width="1"/>
<circle cx="483.3" cy="323.2" r="1.35" fill="#fff" stroke="#111" stroke-width="1"/>
<circle cx="485.7" cy="323.2" r="1.35" fill="#fff" stroke="#111" stroke-width="1"/>
<circle cx="488.0" cy="323.2" r="1.35" fill="#fff" stroke="#111" stroke-width="1"/>
<circle cx="490.3" cy="323.2" r="1.35" fill="#fff" stroke="#111" stroke-width="1"/>
<circle cx="492.6" cy="323.2" r="1.35" fill="#fff" stroke="#111" stroke-width="1"/>
<circle cx="495.0" cy="323.2" r="1.35" fill="#fff" stroke="#111" stroke-width="1"/>
<circle cx="497.3" cy="323.2" r="1.35" fill="#fff" stroke="#111" stroke-width="1"/>
<circle cx="499.6" cy="323.2" r="1.35" fill="#fff" stroke="#111" stroke-width="1"/>
<circle cx="502.0" cy="323.2" r="1.35" fill="#fff" stroke="#111" stroke-width="1"/>
<circle cx="504.3" cy="323.2" r="1.35" fill="#fff" stroke="#111" stroke-width="1"/>
<circle cx="506.6" cy="323.2" r="1.35" fill="#fff" stroke="#111" stroke-width="1"/>
<circle cx="471.8" cy="364.1" r="1.35" fill="#fff" stroke="#111" stroke-width="1"/>
<circle cx="473.9" cy="329.4" r="1.35" fill="#fff" stroke="#111" stroke-width="1"/>
<circle cx="429.4" cy="339.6" r="1.35" fill="#fff" stroke="#111" stroke-width="1"/>
<circle cx="427.0" cy="384.6" r="1.35" fill="#fff" stroke="#111" stroke-width="1"/>
<text x="524.8" y="14.0" font-size="18" text-anchor="start" fill="#000" font-family="Liberation Sans, sans-serif" font-weight="bold" font-style="normal" >j</text>
<rect x="541.4" y="6.6" width="120.2" height="15.9" fill="#8ed9cc" />
<rect x="541.4" y="22.2" width="120.2" height="11.6" fill="#e6e64c" />
<rect x="541.4" y="33.5" width="120.2" height="11.1" fill="#e8aa58" />
<rect x="541.4" y="44.3" width="120.2" height="11.6" fill="#ec8e3a" />
<rect x="541.4" y="55.6" width="120.2" height="11.4" fill="#ea643c" />
<rect x="541.4" y="66.7" width="120.2" height="11.8" fill="#e8504a" />
<rect x="541.4" y="78.2" width="120.2" height="11.6" fill="#cc3a3a" />
<rect x="541.4" y="89.5" width="120.2" height="15.6" fill="#8ed9cc" />
<rect x="541.4" y="104.8" width="120.2" height="22.0" fill="url(#sub)" />
<line x1="541.40" y1="22.30" x2="661.60" y2="22.30" stroke="#e9f2ee" stroke-width="0.7" />
<text x="601.5" y="17.8" font-size="10.5" text-anchor="middle" fill="#222" font-family="Liberation Sans, sans-serif" font-weight="normal" font-style="normal" >Al</text>
<text x="601.5" y="101.2" font-size="10.5" text-anchor="middle" fill="#222" font-family="Liberation Sans, sans-serif" font-weight="normal" font-style="normal" >Al</text>
<text x="601.6" y="121.0" font-size="10.5" text-anchor="middle" fill="#2a2a2a" font-family="Liberation Sans, sans-serif" font-weight="normal" font-style="normal" >Substrate</text>
<text x="598.8" y="31.7" font-size="7.3" fill="#2a2a2a" text-anchor="end" font-family="Liberation Sans, sans-serif"><tspan font-size="10.3">Co</tspan>0.87-5<tspan font-family="Liberation Serif, serif" font-style="italic" font-size="10">δ</tspan></text>
<text x="605" y="31.7" font-size="7.3" fill="#2a2a2a" font-family="Liberation Sans, sans-serif"><tspan font-size="10.3">Tb</tspan>0.13+5<tspan font-family="Liberation Serif, serif" font-style="italic" font-size="10">δ</tspan></text>
<text x="598.8" y="42.7" font-size="7.3" fill="#2a2a2a" text-anchor="end" font-family="Liberation Sans, sans-serif"><tspan font-size="10.3">Co</tspan>0.87-4<tspan font-family="Liberation Serif, serif" font-style="italic" font-size="10">δ</tspan></text>
<text x="605" y="42.7" font-size="7.3" fill="#2a2a2a" font-family="Liberation Sans, sans-serif"><tspan font-size="10.3">Tb</tspan>0.13+4<tspan font-family="Liberation Serif, serif" font-style="italic" font-size="10">δ</tspan></text>
<text x="598.8" y="53.8" font-size="7.3" fill="#2a2a2a" text-anchor="end" font-family="Liberation Sans, sans-serif"><tspan font-size="10.3">Co</tspan>0.87-3<tspan font-family="Liberation Serif, serif" font-style="italic" font-size="10">δ</tspan></text>
<text x="605" y="53.8" font-size="7.3" fill="#2a2a2a" font-family="Liberation Sans, sans-serif"><tspan font-size="10.3">Tb</tspan>0.13+3<tspan font-family="Liberation Serif, serif" font-style="italic" font-size="10">δ</tspan></text>
<text x="598.8" y="65" font-size="7.3" fill="#2a2a2a" text-anchor="end" font-family="Liberation Sans, sans-serif"><tspan font-size="10.3">Co</tspan>0.87-2<tspan font-family="Liberation Serif, serif" font-style="italic" font-size="10">δ</tspan></text>
<text x="605" y="65" font-size="7.3" fill="#2a2a2a" font-family="Liberation Sans, sans-serif"><tspan font-size="10.3">Tb</tspan>0.13+2<tspan font-family="Liberation Serif, serif" font-style="italic" font-size="10">δ</tspan></text>
<text x="598.8" y="76.2" font-size="7.3" fill="#2a2a2a" text-anchor="end" font-family="Liberation Sans, sans-serif"><tspan font-size="10.3">Co</tspan>0.87-<tspan font-family="Liberation Serif, serif" font-style="italic" font-size="10">δ</tspan></text>
<text x="605" y="76.2" font-size="7.3" fill="#2a2a2a" font-family="Liberation Sans, sans-serif"><tspan font-size="10.3">Tb</tspan>0.13+<tspan font-family="Liberation Serif, serif" font-style="italic" font-size="10">δ</tspan></text>
<text x="598.8" y="86.9" font-size="7.3" fill="#2a2a2a" text-anchor="end" font-family="Liberation Sans, sans-serif"><tspan font-size="10.3">Co</tspan>0.87</text>
<text x="605" y="86.9" font-size="7.3" fill="#2a2a2a" font-family="Liberation Sans, sans-serif"><tspan font-size="10.3">Tb</tspan>0.13</text>
<text x="520.6" y="153.6" font-size="18" text-anchor="start" fill="#000" font-family="Liberation Sans, sans-serif" font-weight="bold" font-style="normal" >k</text>
<rect x="548.2" y="139.7" width="114.2" height="151.6" fill="none" stroke="#a0a0a0" stroke-width="1"/>
<line x1="548.40" y1="291.30" x2="548.40" y2="289.60" stroke="#555" stroke-width="0.8" />
<text transform="translate(547.10,299.60) scale(0.8,1)" font-size="7.2" text-anchor="middle" fill="#333" font-family="Liberation Sans, sans-serif" font-style="normal" font-weight="normal">-12</text>
<line x1="567.40" y1="291.30" x2="567.40" y2="289.60" stroke="#555" stroke-width="0.8" />
<text transform="translate(566.10,299.60) scale(0.8,1)" font-size="7.2" text-anchor="middle" fill="#333" font-family="Liberation Sans, sans-serif" font-style="normal" font-weight="normal">-8</text>
<line x1="586.40" y1="291.30" x2="586.40" y2="289.60" stroke="#555" stroke-width="0.8" />
<text transform="translate(585.10,299.60) scale(0.8,1)" font-size="7.2" text-anchor="middle" fill="#333" font-family="Liberation Sans, sans-serif" font-style="normal" font-weight="normal">-4</text>
<line x1="605.40" y1="291.30" x2="605.40" y2="289.60" stroke="#555" stroke-width="0.8" />
<text transform="translate(605.40,299.60) scale(0.8,1)" font-size="7.2" text-anchor="middle" fill="#333" font-family="Liberation Sans, sans-serif" font-style="normal" font-weight="normal">0</text>
<line x1="624.40" y1="291.30" x2="624.40" y2="289.60" stroke="#555" stroke-width="0.8" />
<text transform="translate(624.40,299.60) scale(0.8,1)" font-size="7.2" text-anchor="middle" fill="#333" font-family="Liberation Sans, sans-serif" font-style="normal" font-weight="normal">4</text>
<line x1="643.40" y1="291.30" x2="643.40" y2="289.60" stroke="#555" stroke-width="0.8" />
<text transform="translate(643.40,299.60) scale(0.8,1)" font-size="7.2" text-anchor="middle" fill="#333" font-family="Liberation Sans, sans-serif" font-style="normal" font-weight="normal">8</text>
<line x1="662.40" y1="291.30" x2="662.40" y2="289.60" stroke="#555" stroke-width="0.8" />
<text transform="translate(662.40,299.60) scale(0.8,1)" font-size="7.2" text-anchor="middle" fill="#333" font-family="Liberation Sans, sans-serif" font-style="normal" font-weight="normal">12</text>
<line x1="557.90" y1="291.30" x2="557.90" y2="290.00" stroke="#555" stroke-width="0.8" />
<line x1="576.90" y1="291.30" x2="576.90" y2="290.00" stroke="#555" stroke-width="0.8" />
<line x1="595.90" y1="291.30" x2="595.90" y2="290.00" stroke="#555" stroke-width="0.8" />
<line x1="614.90" y1="291.30" x2="614.90" y2="290.00" stroke="#555" stroke-width="0.8" />
<line x1="633.90" y1="291.30" x2="633.90" y2="290.00" stroke="#555" stroke-width="0.8" />
<line x1="652.90" y1="291.30" x2="652.90" y2="290.00" stroke="#555" stroke-width="0.8" />
<line x1="548.20" y1="287.30" x2="549.80" y2="287.30" stroke="#555" stroke-width="0.8" />
<text transform="translate(545.80,290.00) scale(0.82,1)" font-size="7.5" text-anchor="end" fill="#333" font-family="Liberation Sans, sans-serif" font-style="normal" font-weight="normal">-15</text>
<line x1="548.20" y1="275.80" x2="549.40" y2="275.80" stroke="#555" stroke-width="0.8" />
<line x1="548.20" y1="264.25" x2="549.80" y2="264.25" stroke="#555" stroke-width="0.8" />
<text transform="translate(545.80,266.95) scale(0.82,1)" font-size="7.5" text-anchor="end" fill="#333" font-family="Liberation Sans, sans-serif" font-style="normal" font-weight="normal">-10</text>
<line x1="548.20" y1="252.75" x2="549.40" y2="252.75" stroke="#555" stroke-width="0.8" />
<line x1="548.20" y1="241.20" x2="549.80" y2="241.20" stroke="#555" stroke-width="0.8" />
<text transform="translate(545.80,243.90) scale(0.82,1)" font-size="7.5" text-anchor="end" fill="#333" font-family="Liberation Sans, sans-serif" font-style="normal" font-weight="normal">-5</text>
<line x1="548.20" y1="229.70" x2="549.40" y2="229.70" stroke="#555" stroke-width="0.8" />
<line x1="548.20" y1="218.15" x2="549.80" y2="218.15" stroke="#555" stroke-width="0.8" />
<text transform="translate(545.80,220.85) scale(0.82,1)" font-size="7.5" text-anchor="end" fill="#333" font-family="Liberation Sans, sans-serif" font-style="normal" font-weight="normal">0</text>
<line x1="548.20" y1="206.65" x2="549.40" y2="206.65" stroke="#555" stroke-width="0.8" />
<line x1="548.20" y1="195.10" x2="549.80" y2="195.10" stroke="#555" stroke-width="0.8" />
<text transform="translate(545.80,197.80) scale(0.82,1)" font-size="7.5" text-anchor="end" fill="#333" font-family="Liberation Sans, sans-serif" font-style="normal" font-weight="normal">5</text>
<line x1="548.20" y1="183.60" x2="549.40" y2="183.60" stroke="#555" stroke-width="0.8" />
<line x1="548.20" y1="172.05" x2="549.80" y2="172.05" stroke="#555" stroke-width="0.8" />
<text transform="translate(545.80,174.75) scale(0.82,1)" font-size="7.5" text-anchor="end" fill="#333" font-family="Liberation Sans, sans-serif" font-style="normal" font-weight="normal">10</text>
<line x1="548.20" y1="160.55" x2="549.40" y2="160.55" stroke="#555" stroke-width="0.8" />
<line x1="548.20" y1="149.00" x2="549.80" y2="149.00" stroke="#555" stroke-width="0.8" />
<text transform="translate(545.80,151.70) scale(0.82,1)" font-size="7.5" text-anchor="end" fill="#333" font-family="Liberation Sans, sans-serif" font-style="normal" font-weight="normal">15</text>
<text transform="translate(534.3,216.2) rotate(-90)" font-size="8.8" text-anchor="middle" fill="#222" font-family="Liberation Sans, sans-serif"><tspan font-style="italic">R</tspan><tspan font-size="5.5" dy="1.8" font-style="italic">AHE</tspan><tspan dy="-1.8"> (Ω)</tspan></text>
<text x="581" y="311" font-size="7.5" fill="#222" font-family="Liberation Sans, sans-serif"><tspan font-style="italic">j</tspan><tspan font-size="5" dy="2">CoTb</tspan><tspan dy="-2"> (10</tspan><tspan font-size="4.8" dy="-3.2">10</tspan><tspan dy="3.2"> A/m</tspan><tspan font-size="4.8" dy="-3.2">2</tspan><tspan dy="3.2">)</tspan></text>
<text x="593.6" y="147.9" font-size="8" fill="#222" font-family="Liberation Sans, sans-serif" font-style="italic">H<tspan font-size="5" dy="2.2" textLength="15.4" lengthAdjust="spacingAndGlyphs">in-plane</tspan></text>
<text transform="translate(631.5,148.5) scale(0.86,1)" font-size="8.2" fill="#222" font-family="Liberation Sans, sans-serif"><tspan font-family="Liberation Serif, serif" font-style="italic">δ</tspan> = 0.07</text>
<polyline points="556.8,171.1 559.5,168.8 562.2,162.1 564.0,155.2 567.6,153.9 574.0,153.9 579.4,153.9 585.2,153.9 596.6,153.9 613.8,153.9 625.5,153.9 636.9,153.9 654.0,153.9" fill="none" stroke="#111" stroke-width="0.7" />
<polyline points="556.8,170.6 574.0,170.6 585.2,170.6 596.6,170.6 613.8,170.6 625.5,170.6 631.0,170.2 636.9,169.1 642.7,166.6 645.5,164.2 648.2,158.8 651.8,156.1 654.0,153.9" fill="none" stroke="#111" stroke-width="0.7" />
<circle cx="556.8" cy="171.1" r="1.4" fill="#111" />
<circle cx="559.5" cy="168.8" r="1.4" fill="#111" />
<circle cx="562.2" cy="162.1" r="1.4" fill="#111" />
<circle cx="564.0" cy="155.2" r="1.4" fill="#111" />
<circle cx="567.6" cy="153.9" r="1.4" fill="#111" />
<circle cx="574.0" cy="153.9" r="1.4" fill="#111" />
<circle cx="579.4" cy="153.9" r="1.4" fill="#111" />
<circle cx="585.2" cy="153.9" r="1.4" fill="#111" />
<circle cx="596.6" cy="153.9" r="1.4" fill="#111" />
<circle cx="613.8" cy="153.9" r="1.4" fill="#111" />
<circle cx="625.5" cy="153.9" r="1.4" fill="#111" />
<circle cx="636.9" cy="153.9" r="1.4" fill="#111" />
<circle cx="654.0" cy="153.9" r="1.4" fill="#111" />
<circle cx="556.8" cy="170.6" r="1.4" fill="#111" />
<circle cx="574.0" cy="170.6" r="1.4" fill="#111" />
<circle cx="585.2" cy="170.6" r="1.4" fill="#111" />
<circle cx="596.6" cy="170.6" r="1.4" fill="#111" />
<circle cx="613.8" cy="170.6" r="1.4" fill="#111" />
<circle cx="625.5" cy="170.6" r="1.4" fill="#111" />
<circle cx="631.0" cy="170.2" r="1.4" fill="#111" />
<circle cx="636.9" cy="169.1" r="1.4" fill="#111" />
<circle cx="642.7" cy="166.6" r="1.4" fill="#111" />
<circle cx="645.5" cy="164.2" r="1.4" fill="#111" />
<circle cx="648.2" cy="158.8" r="1.4" fill="#111" />
<circle cx="651.8" cy="156.1" r="1.4" fill="#111" />
<circle cx="654.0" cy="153.9" r="1.4" fill="#111" />
<polyline points="556.8,194.5 559.5,189.6 562.2,182.9 564.9,181.8 568.2,182.0 574.0,180.9 579.4,179.6 585.2,179.1 596.6,179.1 613.8,179.1 625.5,179.1 636.9,179.3 654.0,179.6" fill="none" stroke="#e8302a" stroke-width="0.7" />
<polyline points="556.8,194.5 574.0,194.5 585.2,194.5 596.6,194.5 613.8,194.5 625.5,194.5 631.0,193.2 636.9,192.3 642.7,191.4 645.5,187.8 648.2,186.0 650.9,184.2 654.0,180.5" fill="none" stroke="#e8302a" stroke-width="0.7" />
<circle cx="556.8" cy="194.5" r="1.4" fill="#e8302a" />
<circle cx="559.5" cy="189.6" r="1.4" fill="#e8302a" />
<circle cx="562.2" cy="182.9" r="1.4" fill="#e8302a" />
<circle cx="564.9" cy="181.8" r="1.4" fill="#e8302a" />
<circle cx="568.2" cy="182.0" r="1.4" fill="#e8302a" />
<circle cx="574.0" cy="180.9" r="1.4" fill="#e8302a" />
<circle cx="579.4" cy="179.6" r="1.4" fill="#e8302a" />
<circle cx="585.2" cy="179.1" r="1.4" fill="#e8302a" />
<circle cx="596.6" cy="179.1" r="1.4" fill="#e8302a" />
<circle cx="613.8" cy="179.1" r="1.4" fill="#e8302a" />
<circle cx="625.5" cy="179.1" r="1.4" fill="#e8302a" />
<circle cx="636.9" cy="179.3" r="1.4" fill="#e8302a" />
<circle cx="654.0" cy="179.6" r="1.4" fill="#e8302a" />
<circle cx="556.8" cy="194.5" r="1.4" fill="#e8302a" />
<circle cx="574.0" cy="194.5" r="1.4" fill="#e8302a" />
<circle cx="585.2" cy="194.5" r="1.4" fill="#e8302a" />
<circle cx="596.6" cy="194.5" r="1.4" fill="#e8302a" />
<circle cx="613.8" cy="194.5" r="1.4" fill="#e8302a" />
<circle cx="625.5" cy="194.5" r="1.4" fill="#e8302a" />
<circle cx="631.0" cy="193.2" r="1.4" fill="#e8302a" />
<circle cx="636.9" cy="192.3" r="1.4" fill="#e8302a" />
<circle cx="642.7" cy="191.4" r="1.4" fill="#e8302a" />
<circle cx="645.5" cy="187.8" r="1.4" fill="#e8302a" />
<circle cx="648.2" cy="186.0" r="1.4" fill="#e8302a" />
<circle cx="650.9" cy="184.2" r="1.4" fill="#e8302a" />
<circle cx="654.0" cy="180.5" r="1.4" fill="#e8302a" />
<polyline points="556.8,216.7 559.5,212.2 562.2,204.1 564.9,204.6 568.2,204.2 574.0,204.1 579.4,204.1 585.2,204.1 596.6,204.1 613.8,204.1 625.5,204.1 636.9,204.1 654.0,204.6" fill="none" stroke="#3850c0" stroke-width="0.7" />
<polyline points="556.8,216.7 574.0,216.7 585.2,216.7 596.6,216.7 613.8,216.7 625.5,216.7 631.0,216.7 636.9,216.7 642.7,216.7 645.5,216.7 648.2,215.8 650.9,207.7 654.0,205.0" fill="none" stroke="#3850c0" stroke-width="0.7" />
<polygon points="556.8,214.8 558.6,217.9 555.0,217.9" fill="#3850c0" stroke="none" stroke-width="1" />
<polygon points="559.5,210.3 561.3,213.4 557.7,213.4" fill="#3850c0" stroke="none" stroke-width="1" />
<polygon points="562.2,202.2 564.0,205.3 560.4,205.3" fill="#3850c0" stroke="none" stroke-width="1" />
<polygon points="564.9,202.7 566.7,205.8 563.1,205.8" fill="#3850c0" stroke="none" stroke-width="1" />
<polygon points="568.2,202.3 570.0,205.4 566.4,205.4" fill="#3850c0" stroke="none" stroke-width="1" />
<polygon points="574.0,202.2 575.8,205.3 572.2,205.3" fill="#3850c0" stroke="none" stroke-width="1" />
<polygon points="579.4,202.2 581.2,205.3 577.6,205.3" fill="#3850c0" stroke="none" stroke-width="1" />
<polygon points="585.2,202.2 587.0,205.3 583.4,205.3" fill="#3850c0" stroke="none" stroke-width="1" />
<polygon points="596.6,202.2 598.4,205.3 594.8,205.3" fill="#3850c0" stroke="none" stroke-width="1" />
<polygon points="613.8,202.2 615.6,205.3 612.0,205.3" fill="#3850c0" stroke="none" stroke-width="1" />
<polygon points="625.5,202.2 627.3,205.3 623.7,205.3" fill="#3850c0" stroke="none" stroke-width="1" />
<polygon points="636.9,202.2 638.7,205.3 635.1,205.3" fill="#3850c0" stroke="none" stroke-width="1" />
<polygon points="654.0,202.7 655.8,205.8 652.2,205.8" fill="#3850c0" stroke="none" stroke-width="1" />
<polygon points="556.8,214.8 558.6,217.9 555.0,217.9" fill="#3850c0" stroke="none" stroke-width="1" />
<polygon points="574.0,214.8 575.8,217.9 572.2,217.9" fill="#3850c0" stroke="none" stroke-width="1" />
<polygon points="585.2,214.8 587.0,217.9 583.4,217.9" fill="#3850c0" stroke="none" stroke-width="1" />
<polygon points="596.6,214.8 598.4,217.9 594.8,217.9" fill="#3850c0" stroke="none" stroke-width="1" />
<polygon points="613.8,214.8 615.6,217.9 612.0,217.9" fill="#3850c0" stroke="none" stroke-width="1" />
<polygon points="625.5,214.8 627.3,217.9 623.7,217.9" fill="#3850c0" stroke="none" stroke-width="1" />
<polygon points="631.0,214.8 632.8,217.9 629.2,217.9" fill="#3850c0" stroke="none" stroke-width="1" />
<polygon points="636.9,214.8 638.7,217.9 635.1,217.9" fill="#3850c0" stroke="none" stroke-width="1" />
<polygon points="642.7,214.8 644.5,217.9 640.9,217.9" fill="#3850c0" stroke="none" stroke-width="1" />
<polygon points="645.5,214.8 647.3,217.9 643.7,217.9" fill="#3850c0" stroke="none" stroke-width="1" />
<polygon points="648.2,213.9 650.0,217.0 646.4,217.0" fill="#3850c0" stroke="none" stroke-width="1" />
<polygon points="650.9,205.8 652.7,208.9 649.1,208.9" fill="#3850c0" stroke="none" stroke-width="1" />
<polygon points="654.0,203.1 655.8,206.2 652.2,206.2" fill="#3850c0" stroke="none" stroke-width="1" />
<polyline points="556.8,233.0 559.5,235.3 562.2,232.6 564.9,231.4 568.2,232.1 574.0,233.0 579.4,233.0 585.2,233.0 596.6,233.0 613.8,233.0 625.5,233.0 636.9,233.0 642.7,233.5 645.5,233.5 648.2,234.1 650.9,234.4 654.0,233.2" fill="none" stroke="#b040c8" stroke-width="0.7" />
<polyline points="654.0,233.2 654.0,235.7" fill="none" stroke="#b040c8" stroke-width="0.7" />
<polygon points="556.8,234.9 558.6,231.8 555.0,231.8" fill="#b040c8" stroke="none" stroke-width="1" />
<polygon points="559.5,237.2 561.3,234.1 557.7,234.1" fill="#b040c8" stroke="none" stroke-width="1" />
<polygon points="562.2,234.5 564.0,231.4 560.4,231.4" fill="#b040c8" stroke="none" stroke-width="1" />
<polygon points="564.9,233.3 566.7,230.2 563.1,230.2" fill="#b040c8" stroke="none" stroke-width="1" />
<polygon points="568.2,234.0 570.0,230.9 566.4,230.9" fill="#b040c8" stroke="none" stroke-width="1" />
<polygon points="574.0,234.9 575.8,231.8 572.2,231.8" fill="#b040c8" stroke="none" stroke-width="1" />
<polygon points="579.4,234.9 581.2,231.8 577.6,231.8" fill="#b040c8" stroke="none" stroke-width="1" />
<polygon points="585.2,234.9 587.0,231.8 583.4,231.8" fill="#b040c8" stroke="none" stroke-width="1" />
<polygon points="596.6,234.9 598.4,231.8 594.8,231.8" fill="#b040c8" stroke="none" stroke-width="1" />
<polygon points="613.8,234.9 615.6,231.8 612.0,231.8" fill="#b040c8" stroke="none" stroke-width="1" />
<polygon points="625.5,234.9 627.3,231.8 623.7,231.8" fill="#b040c8" stroke="none" stroke-width="1" />
<polygon points="636.9,234.9 638.7,231.8 635.1,231.8" fill="#b040c8" stroke="none" stroke-width="1" />
<polygon points="642.7,235.4 644.5,232.3 640.9,232.3" fill="#b040c8" stroke="none" stroke-width="1" />
<polygon points="645.5,235.4 647.3,232.3 643.7,232.3" fill="#b040c8" stroke="none" stroke-width="1" />
<polygon points="648.2,236.0 650.0,232.9 646.4,232.9" fill="#b040c8" stroke="none" stroke-width="1" />
<polygon points="650.9,236.3 652.7,233.2 649.1,233.2" fill="#b040c8" stroke="none" stroke-width="1" />
<polygon points="654.0,235.1 655.8,232.0 652.2,232.0" fill="#b040c8" stroke="none" stroke-width="1" />
<polygon points="654.0,235.1 655.8,232.0 652.2,232.0" fill="#b040c8" stroke="none" stroke-width="1" />
<polygon points="654.0,237.6 655.8,234.5 652.2,234.5" fill="#b040c8" stroke="none" stroke-width="1" />
<polyline points="556.8,242.6 574.0,242.6 585.2,242.6 596.6,242.6 613.8,242.6 625.5,242.6 631.0,243.5 636.9,244.4 642.7,247.1 645.5,248.9 648.2,251.3 654.0,258.5" fill="none" stroke="#2e9e3a" stroke-width="0.7" />
<polyline points="556.8,242.6 559.5,247.1 562.2,252.0 564.9,253.4 568.2,254.0 574.0,255.6 579.4,258.0 585.2,258.5 596.6,258.5 613.8,258.5 625.5,258.5 636.9,258.5 654.0,258.5" fill="none" stroke="#2e9e3a" stroke-width="0.7" />
<circle cx="556.8" cy="242.6" r="1.4" fill="#2e9e3a" />
<circle cx="574.0" cy="242.6" r="1.4" fill="#2e9e3a" />
<circle cx="585.2" cy="242.6" r="1.4" fill="#2e9e3a" />
<circle cx="596.6" cy="242.6" r="1.4" fill="#2e9e3a" />
<circle cx="613.8" cy="242.6" r="1.4" fill="#2e9e3a" />
<circle cx="625.5" cy="242.6" r="1.4" fill="#2e9e3a" />
<circle cx="631.0" cy="243.5" r="1.4" fill="#2e9e3a" />
<circle cx="636.9" cy="244.4" r="1.4" fill="#2e9e3a" />
<circle cx="642.7" cy="247.1" r="1.4" fill="#2e9e3a" />
<circle cx="645.5" cy="248.9" r="1.4" fill="#2e9e3a" />
<circle cx="648.2" cy="251.3" r="1.4" fill="#2e9e3a" />
<circle cx="654.0" cy="258.5" r="1.4" fill="#2e9e3a" />
<circle cx="556.8" cy="242.6" r="1.4" fill="#2e9e3a" />
<circle cx="559.5" cy="247.1" r="1.4" fill="#2e9e3a" />
<circle cx="562.2" cy="252.0" r="1.4" fill="#2e9e3a" />
<circle cx="564.9" cy="253.4" r="1.4" fill="#2e9e3a" />
<circle cx="568.2" cy="254.0" r="1.4" fill="#2e9e3a" />
<circle cx="574.0" cy="255.6" r="1.4" fill="#2e9e3a" />
<circle cx="579.4" cy="258.0" r="1.4" fill="#2e9e3a" />
<circle cx="585.2" cy="258.5" r="1.4" fill="#2e9e3a" />
<circle cx="596.6" cy="258.5" r="1.4" fill="#2e9e3a" />
<circle cx="613.8" cy="258.5" r="1.4" fill="#2e9e3a" />
<circle cx="625.5" cy="258.5" r="1.4" fill="#2e9e3a" />
<circle cx="636.9" cy="258.5" r="1.4" fill="#2e9e3a" />
<circle cx="654.0" cy="258.5" r="1.4" fill="#2e9e3a" />
<polyline points="556.8,268.3 574.0,268.3 585.2,268.3 596.6,268.3 613.8,268.3 625.5,268.3 631.0,268.8 636.9,269.7 642.7,272.4 645.5,273.7 648.2,281.5 650.9,282.4 654.0,284.2" fill="none" stroke="#2a2a78" stroke-width="0.7" />
<polyline points="556.8,268.3 559.5,271.5 562.2,275.2 564.9,278.8 568.2,281.1 574.0,282.4 579.4,283.3 585.2,283.8 596.6,283.8 613.8,283.8 625.5,283.8 636.9,283.8 654.0,283.8" fill="none" stroke="#2a2a78" stroke-width="0.7" />
<polygon points="554.9,268.3 558.1,266.5 558.1,270.1" fill="#2a2a78" stroke="none" stroke-width="1" />
<polygon points="572.1,268.3 575.3,266.5 575.3,270.1" fill="#2a2a78" stroke="none" stroke-width="1" />
<polygon points="583.3,268.3 586.5,266.5 586.5,270.1" fill="#2a2a78" stroke="none" stroke-width="1" />
<polygon points="594.7,268.3 597.9,266.5 597.9,270.1" fill="#2a2a78" stroke="none" stroke-width="1" />
<polygon points="611.9,268.3 615.1,266.5 615.1,270.1" fill="#2a2a78" stroke="none" stroke-width="1" />
<polygon points="623.6,268.3 626.8,266.5 626.8,270.1" fill="#2a2a78" stroke="none" stroke-width="1" />
<polygon points="629.1,268.8 632.3,267.0 632.3,270.6" fill="#2a2a78" stroke="none" stroke-width="1" />
<polygon points="635.0,269.7 638.2,267.9 638.2,271.5" fill="#2a2a78" stroke="none" stroke-width="1" />
<polygon points="640.8,272.4 644.0,270.6 644.0,274.2" fill="#2a2a78" stroke="none" stroke-width="1" />
<polygon points="643.6,273.7 646.8,271.9 646.8,275.5" fill="#2a2a78" stroke="none" stroke-width="1" />
<polygon points="646.3,281.5 649.5,279.7 649.5,283.3" fill="#2a2a78" stroke="none" stroke-width="1" />
<polygon points="649.0,282.4 652.2,280.6 652.2,284.2" fill="#2a2a78" stroke="none" stroke-width="1" />
<polygon points="652.1,284.2 655.3,282.4 655.3,286.0" fill="#2a2a78" stroke="none" stroke-width="1" />
<polygon points="554.9,268.3 558.1,266.5 558.1,270.1" fill="#2a2a78" stroke="none" stroke-width="1" />
<polygon points="557.6,271.5 560.8,269.7 560.8,273.3" fill="#2a2a78" stroke="none" stroke-width="1" />
<polygon points="560.3,275.2 563.5,273.4 563.5,277.0" fill="#2a2a78" stroke="none" stroke-width="1" />
<polygon points="563.0,278.8 566.2,277.0 566.2,280.6" fill="#2a2a78" stroke="none" stroke-width="1" />
<polygon points="566.3,281.1 569.5,279.3 569.5,282.9" fill="#2a2a78" stroke="none" stroke-width="1" />
<polygon points="572.1,282.4 575.3,280.6 575.3,284.2" fill="#2a2a78" stroke="none" stroke-width="1" />
<polygon points="577.5,283.3 580.7,281.5 580.7,285.1" fill="#2a2a78" stroke="none" stroke-width="1" />
<polygon points="583.3,283.8 586.5,282.0 586.5,285.6" fill="#2a2a78" stroke="none" stroke-width="1" />
<polygon points="594.7,283.8 597.9,282.0 597.9,285.6" fill="#2a2a78" stroke="none" stroke-width="1" />
<polygon points="611.9,283.8 615.1,282.0 615.1,285.6" fill="#2a2a78" stroke="none" stroke-width="1" />
<polygon points="623.6,283.8 626.8,282.0 626.8,285.6" fill="#2a2a78" stroke="none" stroke-width="1" />
<polygon points="635.0,283.8 638.2,282.0 638.2,285.6" fill="#2a2a78" stroke="none" stroke-width="1" />
<polygon points="652.1,283.8 655.3,282.0 655.3,285.6" fill="#2a2a78" stroke="none" stroke-width="1" />
<text transform="translate(604.00,164.70) scale(0.76,1)" font-size="7.2" text-anchor="middle" fill="#222" font-family="Liberation Sans, sans-serif" font-style="normal" font-weight="normal">100Oe</text>
<text transform="translate(604.00,189.50) scale(0.76,1)" font-size="7.2" text-anchor="middle" fill="#222" font-family="Liberation Sans, sans-serif" font-style="normal" font-weight="normal">50Oe</text>
<text transform="translate(604.00,213.90) scale(0.76,1)" font-size="7.2" text-anchor="middle" fill="#222" font-family="Liberation Sans, sans-serif" font-style="normal" font-weight="normal">0Oe</text>
<text transform="translate(604.00,230.30) scale(0.76,1)" font-size="7.2" text-anchor="middle" fill="#222" font-family="Liberation Sans, sans-serif" font-style="normal" font-weight="normal">-20Oe</text>
<text transform="translate(604.00,254.20) scale(0.76,1)" font-size="7.2" text-anchor="middle" fill="#222" font-family="Liberation Sans, sans-serif" font-style="normal" font-weight="normal">-50Oe</text>
<text transform="translate(604.00,279.20) scale(0.76,1)" font-size="7.2" text-anchor="middle" fill="#222" font-family="Liberation Sans, sans-serif" font-style="normal" font-weight="normal">-100Oe</text>
<text x="534.2" y="342.6" font-size="18" text-anchor="start" fill="#000" font-family="Liberation Sans, sans-serif" font-weight="bold" font-style="normal" >l</text>
<polygon points="548.3,401.6 625.0,401.6 673.0,377.2 596.3,377.2" fill="url(#slabtop)" stroke="none" stroke-width="1" />
<polygon points="548.3,401.6 625.0,401.6 673.0,377.2 596.3,377.2" fill="url(#slabhl)" stroke="none" stroke-width="1" />
<polygon points="625.0,401.6 673.0,377.2 673.0,397.0 625.0,422.0" fill="url(#slabside)" stroke="none" stroke-width="1" />
<polygon points="548.3,401.6 625.0,401.6 625.0,422.0 548.3,422.0" fill="#f3c9a6" stroke="none" stroke-width="1" />
<polygon points="548.3,401.6 597.0,401.6 548.3,421.8" fill="url(#slabtri)" stroke="none" stroke-width="1" />
<polygon points="536.0,391.0 567.5,371.3 576.6,371.3 544.8,391.0" fill="url(#bar)" stroke="none" stroke-width="1" />
<text x="565.8" y="367.1" font-size="6.6" fill="#222" font-family="Liberation Sans, sans-serif" textLength="16.4" lengthAdjust="spacingAndGlyphs" >Pt-rich</text>
<text x="529.2" y="396.6" font-size="6.6" fill="#222" font-family="Liberation Sans, sans-serif" textLength="17.7" lengthAdjust="spacingAndGlyphs" >Cu-rich</text>
<path d="M585.7,377.6 L585.7,390.8 A24.9,4.8 0 0 0 635.5,390.8 L635.5,377.6 Z" fill="url(#cylr)"/>
<path d="M585.7,361 L585.7,377.6 A24.9,4.8 0 0 0 635.5,377.6 L635.5,361 Z" fill="url(#cylg)"/>
<ellipse cx="610.6" cy="361" rx="24.9" ry="4.5" fill="#bcbcbc"/>
<text x="603.3" y="377.4" font-size="8" fill="#222" font-family="Liberation Sans, sans-serif" textLength="14" lengthAdjust="spacingAndGlyphs" >Co/Ni</text>
<text x="605.8" y="390.6" font-size="8" fill="#222" font-family="Liberation Sans, sans-serif" textLength="5.5" lengthAdjust="spacingAndGlyphs" >Pt</text>
<line x1="611.00" y1="360.50" x2="611.00" y2="336.00" stroke="#a4a4a4" stroke-width="2.4" />
<polygon points="610.9,328.8 613.5,336.6 608.3,336.6" fill="#000" stroke="none" stroke-width="1" />
<text x="614.2" y="339.8" font-size="6.5" text-anchor="start" fill="#222" font-family="Liberation Sans, sans-serif" font-weight="bold" font-style="normal" >m</text>
<path d="M608.7,330.2 Q600,332 597.4,341" fill="none" stroke="#222" stroke-width="0.6"/>
<polygon points="596.0,343.0 596.2,338.8 599.0,340.3" fill="#222" stroke="none" stroke-width="1" />
<text x="574.6" y="349.6" font-size="7.2" fill="#222" font-family="Liberation Sans, sans-serif" textLength="31.5" lengthAdjust="spacingAndGlyphs" >Switch down</text>
<line x1="624.30" y1="346.70" x2="615.50" y2="356.50" stroke="#7048c8" stroke-width="1.3" />
<polygon points="612.0,360.2 613.2,353.8 618.2,358.2" fill="#7048c8" stroke="none" stroke-width="1" />
<text x="625.3" y="352.4" font-size="6.5" fill="#7048c8" font-family="Liberation Sans, sans-serif" font-style="italic" textLength="13" lengthAdjust="spacingAndGlyphs">∂σ/∂x</text>
<line x1="610.80" y1="360.10" x2="597.00" y2="360.00" stroke="#e83838" stroke-width="1.3" />
<polygon points="591.5,359.9 597.8,356.9 597.8,363.0" fill="#e83838" stroke="none" stroke-width="1" />
<line x1="610.80" y1="360.30" x2="605.00" y2="366.30" stroke="#e83838" stroke-width="1.3" />
<polygon points="602.1,370.0 602.9,363.8 607.6,368.1" fill="#e83838" stroke="none" stroke-width="1" />
<text x="585.9" y="367" font-size="6.5" fill="#e83838" font-family="Liberation Sans, sans-serif" font-style="italic">τ<tspan font-size="4" dy="1.2">DL</tspan></text>
<text x="610.2" y="368.8" font-size="6.5" fill="#e83838" font-family="Liberation Sans, sans-serif" font-style="italic">τ<tspan font-size="4" dy="1.2">FL</tspan></text>
<ellipse cx="567.9" cy="406.3" rx="2.8" ry="3.2" fill="url(#eball)"/>
<line x1="564.90" y1="406.30" x2="560.70" y2="406.30" stroke="#333" stroke-width="0.6" />
<circle cx="560.1" cy="406.3" r="0.9" fill="#111" />
<ellipse cx="584.6" cy="406.3" rx="2.8" ry="3.2" fill="url(#eball)"/>
<line x1="581.60" y1="406.30" x2="577.40" y2="406.30" stroke="#333" stroke-width="0.6" />
<circle cx="576.8" cy="406.3" r="0.9" fill="#111" />
<ellipse cx="601.2" cy="406.3" rx="2.8" ry="3.2" fill="url(#eball)"/>
<line x1="598.20" y1="406.30" x2="594.00" y2="406.30" stroke="#333" stroke-width="0.6" />
<circle cx="593.4" cy="406.3" r="0.9" fill="#111" />
<ellipse cx="617.6" cy="406.3" rx="2.8" ry="3.2" fill="url(#eball)"/>
<line x1="614.60" y1="406.30" x2="610.40" y2="406.30" stroke="#333" stroke-width="0.6" />
<circle cx="609.8" cy="406.3" r="0.9" fill="#111" />
<text x="570.5" y="419.6" font-size="6.5" fill="#222" font-family="Liberation Sans, sans-serif"><tspan font-style="italic">J</tspan><tspan font-size="4.5" dy="1.2">pulse</tspan></text>
<ellipse cx="588.9" cy="416.4" rx="4.4" ry="4.8" fill="none" stroke="#111" stroke-width="0.9"/>
<circle cx="588.9" cy="416.4" r="1.3" fill="#111" />
</svg></body></html>
